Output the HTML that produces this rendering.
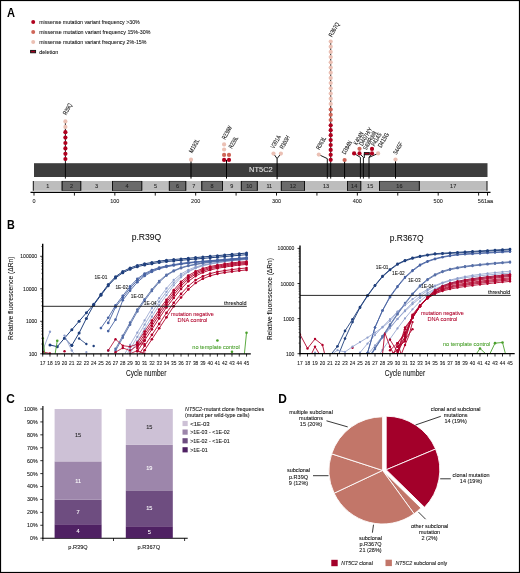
<!DOCTYPE html>
<html><head><meta charset="utf-8"><style>
html,body{margin:0;padding:0;background:#fff;}
svg{display:block;will-change:transform;}
text{font-family:"Liberation Sans", sans-serif;}
</style></head><body>
<svg width="520" height="573" viewBox="0 0 520 573">
<rect x="0" y="0" width="520" height="573" fill="#fff"/>
<text x="7.10" y="16.50" font-size="12.2" fill="#000" text-anchor="start" font-weight="bold" textLength="8.00" lengthAdjust="spacingAndGlyphs">A</text>
<text x="6.90" y="228.80" font-size="12.2" fill="#000" text-anchor="start" font-weight="bold" textLength="7.80" lengthAdjust="spacingAndGlyphs">B</text>
<circle cx="33.20" cy="21.90" r="2.0" fill="#b0001e"/>
<text x="39.20" y="24.00" font-size="6.2" fill="#111" text-anchor="start" textLength="100.60" lengthAdjust="spacingAndGlyphs" stroke="#111" stroke-width="0.08">missense mutation variant frequency &gt;30%</text>
<circle cx="33.20" cy="32.00" r="2.0" fill="#cf6659"/>
<text x="39.20" y="34.10" font-size="6.2" fill="#111" text-anchor="start" textLength="111.30" lengthAdjust="spacingAndGlyphs" stroke="#111" stroke-width="0.08">missense mutation variant frequency 15%-30%</text>
<circle cx="33.20" cy="41.90" r="2.0" fill="#ebc0b4"/>
<text x="39.20" y="44.00" font-size="6.2" fill="#111" text-anchor="start" textLength="107.30" lengthAdjust="spacingAndGlyphs" stroke="#111" stroke-width="0.08">missense mutation variant frequency 2%-15%</text>
<rect x="30.60" y="50.40" width="5.00" height="2.40" fill="#a0001e" stroke="#111" stroke-width="0.9"/>
<text x="39.20" y="53.60" font-size="6.2" fill="#111" text-anchor="start" textLength="19.00" lengthAdjust="spacingAndGlyphs" stroke="#111" stroke-width="0.08">deletion</text>
<rect x="34.00" y="163.20" width="453.50" height="13.80" fill="#3d3d3d"/>
<text x="249.00" y="172.20" font-size="7.2" fill="#e6e6e6" text-anchor="start" textLength="23.70" lengthAdjust="spacingAndGlyphs" stroke="#e6e6e6" stroke-width="0.08">NT5C2</text>
<rect x="33.30" y="181.00" width="28.80" height="9.80" fill="#bdbdbd"/>
<rect x="62.10" y="181.00" width="18.70" height="9.80" fill="#6a6a6a"/>
<rect x="80.80" y="181.00" width="31.70" height="9.80" fill="#bdbdbd"/>
<rect x="112.50" y="181.00" width="29.30" height="9.80" fill="#6a6a6a"/>
<rect x="141.80" y="181.00" width="27.50" height="9.80" fill="#bdbdbd"/>
<rect x="169.30" y="181.00" width="16.50" height="9.80" fill="#6a6a6a"/>
<rect x="185.80" y="181.00" width="16.00" height="9.80" fill="#bdbdbd"/>
<rect x="201.80" y="181.00" width="20.70" height="9.80" fill="#6a6a6a"/>
<rect x="222.50" y="181.00" width="18.80" height="9.80" fill="#bdbdbd"/>
<rect x="241.30" y="181.00" width="16.00" height="9.80" fill="#6a6a6a"/>
<rect x="257.30" y="181.00" width="24.00" height="9.80" fill="#bdbdbd"/>
<rect x="281.30" y="181.00" width="23.20" height="9.80" fill="#6a6a6a"/>
<rect x="304.50" y="181.00" width="43.00" height="9.80" fill="#bdbdbd"/>
<rect x="347.50" y="181.00" width="13.30" height="9.80" fill="#6a6a6a"/>
<rect x="360.80" y="181.00" width="18.70" height="9.80" fill="#bdbdbd"/>
<rect x="379.50" y="181.00" width="39.80" height="9.80" fill="#6a6a6a"/>
<rect x="419.30" y="181.00" width="67.70" height="9.80" fill="#bdbdbd"/>
<text x="47.70" y="188.20" font-size="5.5" fill="#222" text-anchor="middle" stroke="#222" stroke-width="0.08">1</text>
<rect x="62.10" y="181.20" width="18.70" height="9.40" fill="none" stroke="#222" stroke-width="0.5"/>
<line x1="62.10" y1="181.00" x2="62.10" y2="190.80" stroke="#111" stroke-width="1.0"/>
<line x1="80.80" y1="181.00" x2="80.80" y2="190.80" stroke="#111" stroke-width="1.0"/>
<text x="71.45" y="188.20" font-size="5.5" fill="#222" text-anchor="middle" stroke="#222" stroke-width="0.08">2</text>
<text x="96.65" y="188.20" font-size="5.5" fill="#222" text-anchor="middle" stroke="#222" stroke-width="0.08">3</text>
<rect x="112.50" y="181.20" width="29.30" height="9.40" fill="none" stroke="#222" stroke-width="0.5"/>
<line x1="112.50" y1="181.00" x2="112.50" y2="190.80" stroke="#111" stroke-width="1.0"/>
<line x1="141.80" y1="181.00" x2="141.80" y2="190.80" stroke="#111" stroke-width="1.0"/>
<text x="127.15" y="188.20" font-size="5.5" fill="#222" text-anchor="middle" stroke="#222" stroke-width="0.08">4</text>
<text x="155.55" y="188.20" font-size="5.5" fill="#222" text-anchor="middle" stroke="#222" stroke-width="0.08">5</text>
<rect x="169.30" y="181.20" width="16.50" height="9.40" fill="none" stroke="#222" stroke-width="0.5"/>
<line x1="169.30" y1="181.00" x2="169.30" y2="190.80" stroke="#111" stroke-width="1.0"/>
<line x1="185.80" y1="181.00" x2="185.80" y2="190.80" stroke="#111" stroke-width="1.0"/>
<text x="177.55" y="188.20" font-size="5.5" fill="#222" text-anchor="middle" stroke="#222" stroke-width="0.08">6</text>
<text x="193.80" y="188.20" font-size="5.5" fill="#222" text-anchor="middle" stroke="#222" stroke-width="0.08">7</text>
<rect x="201.80" y="181.20" width="20.70" height="9.40" fill="none" stroke="#222" stroke-width="0.5"/>
<line x1="201.80" y1="181.00" x2="201.80" y2="190.80" stroke="#111" stroke-width="1.0"/>
<line x1="222.50" y1="181.00" x2="222.50" y2="190.80" stroke="#111" stroke-width="1.0"/>
<text x="212.15" y="188.20" font-size="5.5" fill="#222" text-anchor="middle" stroke="#222" stroke-width="0.08">8</text>
<text x="231.90" y="188.20" font-size="5.5" fill="#222" text-anchor="middle" stroke="#222" stroke-width="0.08">9</text>
<rect x="241.30" y="181.20" width="16.00" height="9.40" fill="none" stroke="#222" stroke-width="0.5"/>
<line x1="241.30" y1="181.00" x2="241.30" y2="190.80" stroke="#111" stroke-width="1.0"/>
<line x1="257.30" y1="181.00" x2="257.30" y2="190.80" stroke="#111" stroke-width="1.0"/>
<text x="249.30" y="188.20" font-size="5.5" fill="#222" text-anchor="middle" stroke="#222" stroke-width="0.08">10</text>
<text x="269.30" y="188.20" font-size="5.5" fill="#222" text-anchor="middle" stroke="#222" stroke-width="0.08">11</text>
<rect x="281.30" y="181.20" width="23.20" height="9.40" fill="none" stroke="#222" stroke-width="0.5"/>
<line x1="281.30" y1="181.00" x2="281.30" y2="190.80" stroke="#111" stroke-width="1.0"/>
<line x1="304.50" y1="181.00" x2="304.50" y2="190.80" stroke="#111" stroke-width="1.0"/>
<text x="292.90" y="188.20" font-size="5.5" fill="#222" text-anchor="middle" stroke="#222" stroke-width="0.08">12</text>
<text x="326.00" y="188.20" font-size="5.5" fill="#222" text-anchor="middle" stroke="#222" stroke-width="0.08">13</text>
<rect x="347.50" y="181.20" width="13.30" height="9.40" fill="none" stroke="#222" stroke-width="0.5"/>
<line x1="347.50" y1="181.00" x2="347.50" y2="190.80" stroke="#111" stroke-width="1.0"/>
<line x1="360.80" y1="181.00" x2="360.80" y2="190.80" stroke="#111" stroke-width="1.0"/>
<text x="354.15" y="188.20" font-size="5.5" fill="#222" text-anchor="middle" stroke="#222" stroke-width="0.08">14</text>
<text x="370.15" y="188.20" font-size="5.5" fill="#222" text-anchor="middle" stroke="#222" stroke-width="0.08">15</text>
<rect x="379.50" y="181.20" width="39.80" height="9.40" fill="none" stroke="#222" stroke-width="0.5"/>
<line x1="379.50" y1="181.00" x2="379.50" y2="190.80" stroke="#111" stroke-width="1.0"/>
<line x1="419.30" y1="181.00" x2="419.30" y2="190.80" stroke="#111" stroke-width="1.0"/>
<text x="399.40" y="188.20" font-size="5.5" fill="#222" text-anchor="middle" stroke="#222" stroke-width="0.08">16</text>
<text x="453.15" y="188.20" font-size="5.5" fill="#222" text-anchor="middle" stroke="#222" stroke-width="0.08">17</text>
<line x1="33.30" y1="181.00" x2="33.30" y2="190.80" stroke="#111" stroke-width="1.0"/>
<line x1="487.00" y1="181.00" x2="487.00" y2="190.80" stroke="#111" stroke-width="1.0"/>
<line x1="30.50" y1="192.40" x2="490.50" y2="192.40" stroke="#000" stroke-width="1.1"/>
<line x1="34.00" y1="192.40" x2="34.00" y2="195.60" stroke="#000" stroke-width="0.9"/>
<line x1="74.42" y1="192.40" x2="74.42" y2="195.60" stroke="#000" stroke-width="0.9"/>
<line x1="114.84" y1="192.40" x2="114.84" y2="195.60" stroke="#000" stroke-width="0.9"/>
<line x1="155.26" y1="192.40" x2="155.26" y2="195.60" stroke="#000" stroke-width="0.9"/>
<line x1="195.68" y1="192.40" x2="195.68" y2="195.60" stroke="#000" stroke-width="0.9"/>
<line x1="236.09" y1="192.40" x2="236.09" y2="195.60" stroke="#000" stroke-width="0.9"/>
<line x1="276.51" y1="192.40" x2="276.51" y2="195.60" stroke="#000" stroke-width="0.9"/>
<line x1="316.93" y1="192.40" x2="316.93" y2="195.60" stroke="#000" stroke-width="0.9"/>
<line x1="357.35" y1="192.40" x2="357.35" y2="195.60" stroke="#000" stroke-width="0.9"/>
<line x1="397.77" y1="192.40" x2="397.77" y2="195.60" stroke="#000" stroke-width="0.9"/>
<line x1="438.19" y1="192.40" x2="438.19" y2="195.60" stroke="#000" stroke-width="0.9"/>
<line x1="478.61" y1="192.40" x2="478.61" y2="195.60" stroke="#000" stroke-width="0.9"/>
<line x1="487.50" y1="192.40" x2="487.50" y2="195.60" stroke="#000" stroke-width="0.9"/>
<text x="34.00" y="203.00" font-size="5.5" fill="#222" text-anchor="middle" stroke="#222" stroke-width="0.08">0</text>
<text x="114.84" y="203.00" font-size="5.5" fill="#222" text-anchor="middle" stroke="#222" stroke-width="0.08">100</text>
<text x="195.68" y="203.00" font-size="5.5" fill="#222" text-anchor="middle" stroke="#222" stroke-width="0.08">200</text>
<text x="276.51" y="203.00" font-size="5.5" fill="#222" text-anchor="middle" stroke="#222" stroke-width="0.08">300</text>
<text x="357.35" y="203.00" font-size="5.5" fill="#222" text-anchor="middle" stroke="#222" stroke-width="0.08">400</text>
<text x="438.19" y="203.00" font-size="5.5" fill="#222" text-anchor="middle" stroke="#222" stroke-width="0.08">500</text>
<text x="485.50" y="203.00" font-size="5.5" fill="#222" text-anchor="middle" stroke="#222" stroke-width="0.08">561aa</text>
<line x1="65.40" y1="121.40" x2="65.40" y2="178.60" stroke="#000" stroke-width="0.9"/>
<circle cx="65.40" cy="159.00" r="2.1" fill="#b0001e"/>
<circle cx="65.40" cy="153.80" r="2.1" fill="#b0001e"/>
<circle cx="65.40" cy="148.40" r="2.1" fill="#b0001e"/>
<circle cx="65.40" cy="143.00" r="2.1" fill="#b0001e"/>
<circle cx="65.40" cy="137.60" r="2.1" fill="#b0001e"/>
<circle cx="65.40" cy="132.20" r="2.1" fill="#b0001e"/>
<circle cx="65.40" cy="126.90" r="2.1" fill="#ebc0b4"/>
<circle cx="65.40" cy="121.40" r="2.1" fill="#ebc0b4"/>
<text x="66.20" y="115.40" font-size="6.3" fill="#111" text-anchor="start" textLength="12.31" lengthAdjust="spacingAndGlyphs" transform="rotate(-60 66.20 115.40)" stroke="#111" stroke-width="0.08">R39Q</text>
<line x1="191.00" y1="159.70" x2="191.00" y2="178.60" stroke="#000" stroke-width="1.0"/>
<circle cx="191.00" cy="159.70" r="2.1" fill="#ebc0b4"/>
<text x="192.20" y="153.40" font-size="6.3" fill="#111" text-anchor="start" textLength="14.98" lengthAdjust="spacingAndGlyphs" transform="rotate(-60 192.20 153.40)" stroke="#111" stroke-width="0.08">M192L</text>
<line x1="226.50" y1="159.90" x2="226.50" y2="178.60" stroke="#000" stroke-width="1.0"/>
<circle cx="224.10" cy="159.90" r="2.1" fill="#b0001e"/>
<circle cx="224.10" cy="154.90" r="2.1" fill="#cf6659"/>
<circle cx="224.10" cy="149.50" r="2.1" fill="#ebc0b4"/>
<circle cx="224.10" cy="144.40" r="2.1" fill="#ebc0b4"/>
<circle cx="229.00" cy="159.90" r="2.1" fill="#b0001e"/>
<circle cx="229.00" cy="154.90" r="2.1" fill="#cf6659"/>
<text x="225.20" y="139.90" font-size="6.3" fill="#111" text-anchor="start" textLength="14.45" lengthAdjust="spacingAndGlyphs" transform="rotate(-60 225.20 139.90)" stroke="#111" stroke-width="0.08">R238W</text>
<text x="232.00" y="149.00" font-size="6.3" fill="#111" text-anchor="start" textLength="12.84" lengthAdjust="spacingAndGlyphs" transform="rotate(-60 232.00 149.00)" stroke="#111" stroke-width="0.08">R238L</text>
<polyline points="273.50,153.60 277.10,158.60 280.90,153.60" fill="none" stroke="#000" stroke-width="0.9" stroke-linejoin="round"/>
<line x1="277.10" y1="158.60" x2="277.10" y2="179.20" stroke="#000" stroke-width="1.0"/>
<circle cx="273.50" cy="153.60" r="2.1" fill="#ebc0b4"/>
<circle cx="280.90" cy="153.60" r="2.1" fill="#ebc0b4"/>
<text x="274.00" y="148.90" font-size="6.3" fill="#111" text-anchor="start" textLength="14.02" lengthAdjust="spacingAndGlyphs" transform="rotate(-60 274.00 148.90)" stroke="#111" stroke-width="0.08">V301A</text>
<text x="283.00" y="149.60" font-size="6.3" fill="#111" text-anchor="start" textLength="14.34" lengthAdjust="spacingAndGlyphs" transform="rotate(-60 283.00 149.60)" stroke="#111" stroke-width="0.08">R303H</text>
<polyline points="318.80,154.60 327.30,158.60 327.30,178.60" fill="none" stroke="#000" stroke-width="0.9" stroke-linejoin="round"/>
<circle cx="318.80" cy="154.60" r="2.1" fill="#ebc0b4"/>
<text x="319.40" y="150.30" font-size="6.3" fill="#111" text-anchor="start" textLength="13.91" lengthAdjust="spacingAndGlyphs" transform="rotate(-60 319.40 150.30)" stroke="#111" stroke-width="0.08">R363L</text>
<line x1="330.70" y1="41.50" x2="330.70" y2="178.60" stroke="#000" stroke-width="0.9"/>
<circle cx="330.70" cy="159.80" r="2.1" fill="#b0001e"/>
<circle cx="330.70" cy="154.87" r="2.1" fill="#b0001e"/>
<circle cx="330.70" cy="149.94" r="2.1" fill="#b0001e"/>
<circle cx="330.70" cy="145.01" r="2.1" fill="#b0001e"/>
<circle cx="330.70" cy="140.08" r="2.1" fill="#b0001e"/>
<circle cx="330.70" cy="135.15" r="2.1" fill="#b0001e"/>
<circle cx="330.70" cy="130.22" r="2.1" fill="#b0001e"/>
<circle cx="330.70" cy="125.29" r="2.1" fill="#b0001e"/>
<circle cx="330.70" cy="120.00" r="2.1" fill="#cf6659"/>
<circle cx="330.70" cy="114.75" r="2.1" fill="#cf6659"/>
<circle cx="330.70" cy="109.50" r="2.1" fill="#cf6659"/>
<circle cx="330.70" cy="103.90" r="2.1" fill="#ebc0b4"/>
<circle cx="330.70" cy="98.70" r="2.1" fill="#ebc0b4"/>
<circle cx="330.70" cy="93.50" r="2.1" fill="#ebc0b4"/>
<circle cx="330.70" cy="88.30" r="2.1" fill="#ebc0b4"/>
<circle cx="330.70" cy="83.10" r="2.1" fill="#ebc0b4"/>
<circle cx="330.70" cy="77.90" r="2.1" fill="#ebc0b4"/>
<circle cx="330.70" cy="72.70" r="2.1" fill="#ebc0b4"/>
<circle cx="330.70" cy="67.50" r="2.1" fill="#ebc0b4"/>
<circle cx="330.70" cy="62.30" r="2.1" fill="#ebc0b4"/>
<circle cx="330.70" cy="57.10" r="2.1" fill="#ebc0b4"/>
<circle cx="330.70" cy="51.90" r="2.1" fill="#ebc0b4"/>
<circle cx="330.70" cy="46.70" r="2.1" fill="#ebc0b4"/>
<circle cx="330.70" cy="41.50" r="2.1" fill="#ebc0b4"/>
<text x="332.00" y="37.40" font-size="6.3" fill="#111" text-anchor="start" textLength="15.52" lengthAdjust="spacingAndGlyphs" transform="rotate(-60 332.00 37.40)" stroke="#111" stroke-width="0.08">R367Q</text>
<line x1="344.60" y1="160.00" x2="344.60" y2="178.60" stroke="#000" stroke-width="1.0"/>
<circle cx="344.60" cy="160.00" r="2.1" fill="#cf6659"/>
<text x="345.20" y="154.80" font-size="6.3" fill="#111" text-anchor="start" textLength="14.45" lengthAdjust="spacingAndGlyphs" transform="rotate(-60 345.20 154.80)" stroke="#111" stroke-width="0.08">D384N</text>
<polyline points="354.10,153.40 360.40,157.40 360.40,178.60" fill="none" stroke="#000" stroke-width="0.9" stroke-linejoin="round"/>
<polyline points="359.50,153.40 363.40,157.40 363.40,178.60" fill="none" stroke="#000" stroke-width="0.9" stroke-linejoin="round"/>
<polyline points="372.00,153.40 369.00,157.40 369.00,178.60" fill="none" stroke="#000" stroke-width="0.9" stroke-linejoin="round"/>
<polyline points="378.10,153.40 369.00,157.40" fill="none" stroke="#000" stroke-width="0.9" stroke-linejoin="round"/>
<line x1="364.30" y1="153.60" x2="364.30" y2="158.00" stroke="#000" stroke-width="0.9"/>
<circle cx="354.10" cy="153.40" r="2.1" fill="#b0001e"/>
<circle cx="359.50" cy="153.40" r="2.1" fill="#b0001e"/>
<circle cx="359.50" cy="148.80" r="2.1" fill="#cf6659"/>
<rect x="364.30" y="152.40" width="5.00" height="2.40" fill="#a0001e" stroke="#111" stroke-width="0.8"/>
<circle cx="372.00" cy="153.40" r="2.1" fill="#b0001e"/>
<circle cx="372.00" cy="148.90" r="2.1" fill="#b0001e"/>
<circle cx="378.10" cy="153.40" r="2.1" fill="#ebc0b4"/>
<text x="357.00" y="145.40" font-size="6.3" fill="#111" text-anchor="start" textLength="13.70" lengthAdjust="spacingAndGlyphs" transform="rotate(-60 357.00 145.40)" stroke="#111" stroke-width="0.08">K404N</text>
<text x="362.60" y="146.20" font-size="6.3" fill="#111" text-anchor="start" textLength="19.90" lengthAdjust="spacingAndGlyphs" transform="rotate(-60 362.60 146.20)" stroke="#111" stroke-width="0.08">D407H/Y</text>
<text x="366.50" y="150.50" font-size="6.3" fill="#111" text-anchor="start" textLength="20.65" lengthAdjust="spacingAndGlyphs" transform="rotate(-60 366.50 150.50)" stroke="#111" stroke-width="0.08">S408Rdel8</text>
<text x="374.70" y="146.70" font-size="6.3" fill="#111" text-anchor="start" textLength="14.23" lengthAdjust="spacingAndGlyphs" transform="rotate(-60 374.70 146.70)" stroke="#111" stroke-width="0.08">P414S</text>
<text x="381.20" y="148.00" font-size="6.3" fill="#111" text-anchor="start" textLength="15.84" lengthAdjust="spacingAndGlyphs" transform="rotate(-60 381.20 148.00)" stroke="#111" stroke-width="0.08">D415G</text>
<line x1="395.50" y1="159.50" x2="395.50" y2="178.60" stroke="#000" stroke-width="1.0"/>
<circle cx="395.50" cy="159.50" r="2.1" fill="#ebc0b4"/>
<text x="396.50" y="155.00" font-size="6.3" fill="#111" text-anchor="start" textLength="12.95" lengthAdjust="spacingAndGlyphs" transform="rotate(-60 396.50 155.00)" stroke="#111" stroke-width="0.08">S445F</text>
<text x="131.70" y="239.60" font-size="8.5" fill="#111" text-anchor="start" textLength="29.50" lengthAdjust="spacingAndGlyphs" stroke="#111" stroke-width="0.08">p.R39Q</text>
<text x="13.20" y="298.20" font-size="7.2" fill="#111" text-anchor="middle" textLength="83.50" lengthAdjust="spacingAndGlyphs" transform="rotate(-90 13.20 298.20)" stroke="#111" stroke-width="0.08">Relative fluorescence (ΔRn)</text>
<text x="146.20" y="376.20" font-size="8.8" fill="#111" text-anchor="middle" textLength="40.40" lengthAdjust="spacingAndGlyphs" stroke="#111" stroke-width="0.08">Cycle number</text>
<clipPath id="clipL"><rect x="42.7" y="240.7" width="209.10000000000002" height="113.10000000000002"/></clipPath>
<g clip-path="url(#clipL)">
<polyline points="122.78,357.15 130.06,344.90 137.34,332.64 144.62,320.39 151.90,308.14 159.18,298.15 166.46,288.40 173.74,280.00 181.02,273.94 188.30,269.84 195.58,266.93 202.86,264.98 210.14,263.59 217.42,262.32 224.70,261.25 231.98,260.50 239.26,259.86 246.54,259.23" fill="none" stroke="#8e9ecb" stroke-width="0.75" stroke-linejoin="round"/>
<circle cx="130.06" cy="344.90" r="1.15" fill="#8e9ecb"/>
<circle cx="137.34" cy="332.64" r="1.15" fill="#8e9ecb"/>
<circle cx="144.62" cy="320.39" r="1.15" fill="#8e9ecb"/>
<circle cx="151.90" cy="308.14" r="1.15" fill="#8e9ecb"/>
<circle cx="159.18" cy="298.15" r="1.15" fill="#8e9ecb"/>
<circle cx="166.46" cy="288.40" r="1.15" fill="#8e9ecb"/>
<circle cx="173.74" cy="280.00" r="1.15" fill="#8e9ecb"/>
<circle cx="181.02" cy="273.94" r="1.15" fill="#8e9ecb"/>
<circle cx="188.30" cy="269.84" r="1.15" fill="#8e9ecb"/>
<circle cx="195.58" cy="266.93" r="1.15" fill="#8e9ecb"/>
<circle cx="202.86" cy="264.98" r="1.15" fill="#8e9ecb"/>
<circle cx="210.14" cy="263.59" r="1.15" fill="#8e9ecb"/>
<circle cx="217.42" cy="262.32" r="1.15" fill="#8e9ecb"/>
<circle cx="224.70" cy="261.25" r="1.15" fill="#8e9ecb"/>
<circle cx="231.98" cy="260.50" r="1.15" fill="#8e9ecb"/>
<circle cx="239.26" cy="259.86" r="1.15" fill="#8e9ecb"/>
<circle cx="246.54" cy="259.23" r="1.15" fill="#8e9ecb"/>
<polyline points="122.78,361.44 130.06,349.18 137.34,336.93 144.62,324.68 151.90,312.43 159.18,301.65 166.46,291.78 173.74,282.72 181.02,275.78 188.30,271.13 195.58,267.90 202.86,265.62 210.14,264.13 217.42,262.86 224.70,261.68 231.98,260.82 239.26,260.18 246.54,259.55" fill="none" stroke="#8e9ecb" stroke-width="0.75" stroke-linejoin="round"/>
<circle cx="130.06" cy="349.18" r="1.15" fill="#8e9ecb"/>
<circle cx="137.34" cy="336.93" r="1.15" fill="#8e9ecb"/>
<circle cx="144.62" cy="324.68" r="1.15" fill="#8e9ecb"/>
<circle cx="151.90" cy="312.43" r="1.15" fill="#8e9ecb"/>
<circle cx="159.18" cy="301.65" r="1.15" fill="#8e9ecb"/>
<circle cx="166.46" cy="291.78" r="1.15" fill="#8e9ecb"/>
<circle cx="173.74" cy="282.72" r="1.15" fill="#8e9ecb"/>
<circle cx="181.02" cy="275.78" r="1.15" fill="#8e9ecb"/>
<circle cx="188.30" cy="271.13" r="1.15" fill="#8e9ecb"/>
<circle cx="195.58" cy="267.90" r="1.15" fill="#8e9ecb"/>
<circle cx="202.86" cy="265.62" r="1.15" fill="#8e9ecb"/>
<circle cx="210.14" cy="264.13" r="1.15" fill="#8e9ecb"/>
<circle cx="217.42" cy="262.86" r="1.15" fill="#8e9ecb"/>
<circle cx="224.70" cy="261.68" r="1.15" fill="#8e9ecb"/>
<circle cx="231.98" cy="260.82" r="1.15" fill="#8e9ecb"/>
<circle cx="239.26" cy="260.18" r="1.15" fill="#8e9ecb"/>
<circle cx="246.54" cy="259.55" r="1.15" fill="#8e9ecb"/>
<polyline points="122.78,365.72 130.06,353.47 137.34,341.22 144.62,328.97 151.90,316.71 159.18,305.03 166.46,295.07 173.74,285.29 181.02,277.34 188.30,271.93 195.58,268.23 202.86,265.56 210.14,263.86 217.42,262.53 224.70,261.23 231.98,260.23 239.26,259.55 246.54,258.90" fill="none" stroke="#8e9ecb" stroke-width="0.75" stroke-linejoin="round"/>
<circle cx="130.06" cy="353.47" r="1.15" fill="#8e9ecb"/>
<circle cx="137.34" cy="341.22" r="1.15" fill="#8e9ecb"/>
<circle cx="144.62" cy="328.97" r="1.15" fill="#8e9ecb"/>
<circle cx="151.90" cy="316.71" r="1.15" fill="#8e9ecb"/>
<circle cx="159.18" cy="305.03" r="1.15" fill="#8e9ecb"/>
<circle cx="166.46" cy="295.07" r="1.15" fill="#8e9ecb"/>
<circle cx="173.74" cy="285.29" r="1.15" fill="#8e9ecb"/>
<circle cx="181.02" cy="277.34" r="1.15" fill="#8e9ecb"/>
<circle cx="188.30" cy="271.93" r="1.15" fill="#8e9ecb"/>
<circle cx="195.58" cy="268.23" r="1.15" fill="#8e9ecb"/>
<circle cx="202.86" cy="265.56" r="1.15" fill="#8e9ecb"/>
<circle cx="210.14" cy="263.86" r="1.15" fill="#8e9ecb"/>
<circle cx="217.42" cy="262.53" r="1.15" fill="#8e9ecb"/>
<circle cx="224.70" cy="261.23" r="1.15" fill="#8e9ecb"/>
<circle cx="231.98" cy="260.23" r="1.15" fill="#8e9ecb"/>
<circle cx="239.26" cy="259.55" r="1.15" fill="#8e9ecb"/>
<circle cx="246.54" cy="258.90" r="1.15" fill="#8e9ecb"/>
<polyline points="115.50,348.87 122.78,335.77 130.06,322.67 137.34,309.57 144.62,299.18 151.90,289.48 159.18,280.98 166.46,274.75 173.74,270.55 181.02,267.59 188.30,265.58 195.58,264.18 202.86,262.93 210.14,261.84 217.42,261.07 224.70,260.45 231.98,259.82 239.26,259.20 246.54,258.58" fill="none" stroke="#5870a8" stroke-width="0.9" stroke-linejoin="round"/>
<circle cx="115.50" cy="348.87" r="1.3" fill="#5870a8"/>
<circle cx="122.78" cy="335.77" r="1.3" fill="#5870a8"/>
<circle cx="130.06" cy="322.67" r="1.3" fill="#5870a8"/>
<circle cx="137.34" cy="309.57" r="1.3" fill="#5870a8"/>
<circle cx="144.62" cy="299.18" r="1.3" fill="#5870a8"/>
<circle cx="151.90" cy="289.48" r="1.3" fill="#5870a8"/>
<circle cx="159.18" cy="280.98" r="1.3" fill="#5870a8"/>
<circle cx="166.46" cy="274.75" r="1.3" fill="#5870a8"/>
<circle cx="173.74" cy="270.55" r="1.3" fill="#5870a8"/>
<circle cx="181.02" cy="267.59" r="1.3" fill="#5870a8"/>
<circle cx="188.30" cy="265.58" r="1.3" fill="#5870a8"/>
<circle cx="195.58" cy="264.18" r="1.3" fill="#5870a8"/>
<circle cx="202.86" cy="262.93" r="1.3" fill="#5870a8"/>
<circle cx="210.14" cy="261.84" r="1.3" fill="#5870a8"/>
<circle cx="217.42" cy="261.07" r="1.3" fill="#5870a8"/>
<circle cx="224.70" cy="260.45" r="1.3" fill="#5870a8"/>
<circle cx="231.98" cy="259.82" r="1.3" fill="#5870a8"/>
<circle cx="239.26" cy="259.20" r="1.3" fill="#5870a8"/>
<circle cx="246.54" cy="258.58" r="1.3" fill="#5870a8"/>
<polyline points="115.50,350.83 122.78,337.73 130.06,324.64 137.34,311.54 144.62,300.68 151.90,290.95 159.18,282.20 166.46,275.62 173.74,271.21 181.02,268.13 188.30,266.00 195.58,264.56 202.86,263.32 210.14,262.19 217.42,261.38 224.70,260.76 231.98,260.14 239.26,259.52 246.54,258.90" fill="none" stroke="#5870a8" stroke-width="0.9" stroke-linejoin="round"/>
<circle cx="115.50" cy="350.83" r="1.3" fill="#5870a8"/>
<circle cx="122.78" cy="337.73" r="1.3" fill="#5870a8"/>
<circle cx="130.06" cy="324.64" r="1.3" fill="#5870a8"/>
<circle cx="137.34" cy="311.54" r="1.3" fill="#5870a8"/>
<circle cx="144.62" cy="300.68" r="1.3" fill="#5870a8"/>
<circle cx="151.90" cy="290.95" r="1.3" fill="#5870a8"/>
<circle cx="159.18" cy="282.20" r="1.3" fill="#5870a8"/>
<circle cx="166.46" cy="275.62" r="1.3" fill="#5870a8"/>
<circle cx="173.74" cy="271.21" r="1.3" fill="#5870a8"/>
<circle cx="181.02" cy="268.13" r="1.3" fill="#5870a8"/>
<circle cx="188.30" cy="266.00" r="1.3" fill="#5870a8"/>
<circle cx="195.58" cy="264.56" r="1.3" fill="#5870a8"/>
<circle cx="202.86" cy="263.32" r="1.3" fill="#5870a8"/>
<circle cx="210.14" cy="262.19" r="1.3" fill="#5870a8"/>
<circle cx="217.42" cy="261.38" r="1.3" fill="#5870a8"/>
<circle cx="224.70" cy="260.76" r="1.3" fill="#5870a8"/>
<circle cx="231.98" cy="260.14" r="1.3" fill="#5870a8"/>
<circle cx="239.26" cy="259.52" r="1.3" fill="#5870a8"/>
<circle cx="246.54" cy="258.90" r="1.3" fill="#5870a8"/>
<polyline points="100.94,328.12 108.22,317.73 115.50,305.46 122.78,295.82 130.06,286.43 137.34,278.80 144.62,273.59 151.90,270.05 159.18,267.50 166.46,265.87 173.74,264.62 181.02,263.41 188.30,262.46 195.58,261.82 202.86,261.22 210.14,260.61 217.42,260.01 224.70,259.41 231.98,258.80 239.26,258.20 246.54,257.60" fill="none" stroke="#4863a3" stroke-width="0.9" stroke-linejoin="round"/>
<circle cx="100.94" cy="328.12" r="1.35" fill="#4863a3"/>
<circle cx="108.22" cy="317.73" r="1.35" fill="#4863a3"/>
<circle cx="115.50" cy="305.46" r="1.35" fill="#4863a3"/>
<circle cx="122.78" cy="295.82" r="1.35" fill="#4863a3"/>
<circle cx="130.06" cy="286.43" r="1.35" fill="#4863a3"/>
<circle cx="137.34" cy="278.80" r="1.35" fill="#4863a3"/>
<circle cx="144.62" cy="273.59" r="1.35" fill="#4863a3"/>
<circle cx="151.90" cy="270.05" r="1.35" fill="#4863a3"/>
<circle cx="159.18" cy="267.50" r="1.35" fill="#4863a3"/>
<circle cx="166.46" cy="265.87" r="1.35" fill="#4863a3"/>
<circle cx="173.74" cy="264.62" r="1.35" fill="#4863a3"/>
<circle cx="181.02" cy="263.41" r="1.35" fill="#4863a3"/>
<circle cx="188.30" cy="262.46" r="1.35" fill="#4863a3"/>
<circle cx="195.58" cy="261.82" r="1.35" fill="#4863a3"/>
<circle cx="202.86" cy="261.22" r="1.35" fill="#4863a3"/>
<circle cx="210.14" cy="260.61" r="1.35" fill="#4863a3"/>
<circle cx="217.42" cy="260.01" r="1.35" fill="#4863a3"/>
<circle cx="224.70" cy="259.41" r="1.35" fill="#4863a3"/>
<circle cx="231.98" cy="258.80" r="1.35" fill="#4863a3"/>
<circle cx="239.26" cy="258.20" r="1.35" fill="#4863a3"/>
<circle cx="246.54" cy="257.60" r="1.35" fill="#4863a3"/>
<polyline points="108.22,322.93 115.50,307.15 122.78,297.79 130.06,288.34 137.34,280.35 144.62,274.68 151.90,270.84 159.18,268.13 166.46,266.33 173.74,265.02 181.02,263.82 188.30,262.82 195.58,262.12 202.86,261.52 210.14,260.92 217.42,260.32 224.70,259.72 231.98,259.12 239.26,258.52 246.54,257.93" fill="none" stroke="#4863a3" stroke-width="0.9" stroke-linejoin="round"/>
<circle cx="108.22" cy="322.93" r="1.35" fill="#4863a3"/>
<circle cx="115.50" cy="307.15" r="1.35" fill="#4863a3"/>
<circle cx="122.78" cy="297.79" r="1.35" fill="#4863a3"/>
<circle cx="130.06" cy="288.34" r="1.35" fill="#4863a3"/>
<circle cx="137.34" cy="280.35" r="1.35" fill="#4863a3"/>
<circle cx="144.62" cy="274.68" r="1.35" fill="#4863a3"/>
<circle cx="151.90" cy="270.84" r="1.35" fill="#4863a3"/>
<circle cx="159.18" cy="268.13" r="1.35" fill="#4863a3"/>
<circle cx="166.46" cy="266.33" r="1.35" fill="#4863a3"/>
<circle cx="173.74" cy="265.02" r="1.35" fill="#4863a3"/>
<circle cx="181.02" cy="263.82" r="1.35" fill="#4863a3"/>
<circle cx="188.30" cy="262.82" r="1.35" fill="#4863a3"/>
<circle cx="195.58" cy="262.12" r="1.35" fill="#4863a3"/>
<circle cx="202.86" cy="261.52" r="1.35" fill="#4863a3"/>
<circle cx="210.14" cy="260.92" r="1.35" fill="#4863a3"/>
<circle cx="217.42" cy="260.32" r="1.35" fill="#4863a3"/>
<circle cx="224.70" cy="259.72" r="1.35" fill="#4863a3"/>
<circle cx="231.98" cy="259.12" r="1.35" fill="#4863a3"/>
<circle cx="239.26" cy="258.52" r="1.35" fill="#4863a3"/>
<circle cx="246.54" cy="257.93" r="1.35" fill="#4863a3"/>
<polyline points="108.22,331.05 115.50,319.68 122.78,300.24 130.06,290.69 137.34,282.25 144.62,275.98 151.90,271.78 159.18,268.85 166.46,266.83 173.74,265.46 181.02,264.26 188.30,263.19 195.58,262.42 202.86,261.83 210.14,261.23 217.42,260.63 224.70,260.04 231.98,259.44 239.26,258.85 246.54,258.25" fill="none" stroke="#4863a3" stroke-width="0.9" stroke-linejoin="round"/>
<circle cx="108.22" cy="331.05" r="1.35" fill="#4863a3"/>
<circle cx="115.50" cy="319.68" r="1.35" fill="#4863a3"/>
<circle cx="122.78" cy="300.24" r="1.35" fill="#4863a3"/>
<circle cx="130.06" cy="290.69" r="1.35" fill="#4863a3"/>
<circle cx="137.34" cy="282.25" r="1.35" fill="#4863a3"/>
<circle cx="144.62" cy="275.98" r="1.35" fill="#4863a3"/>
<circle cx="151.90" cy="271.78" r="1.35" fill="#4863a3"/>
<circle cx="159.18" cy="268.85" r="1.35" fill="#4863a3"/>
<circle cx="166.46" cy="266.83" r="1.35" fill="#4863a3"/>
<circle cx="173.74" cy="265.46" r="1.35" fill="#4863a3"/>
<circle cx="181.02" cy="264.26" r="1.35" fill="#4863a3"/>
<circle cx="188.30" cy="263.19" r="1.35" fill="#4863a3"/>
<circle cx="195.58" cy="262.42" r="1.35" fill="#4863a3"/>
<circle cx="202.86" cy="261.83" r="1.35" fill="#4863a3"/>
<circle cx="210.14" cy="261.23" r="1.35" fill="#4863a3"/>
<circle cx="217.42" cy="260.63" r="1.35" fill="#4863a3"/>
<circle cx="224.70" cy="260.04" r="1.35" fill="#4863a3"/>
<circle cx="231.98" cy="259.44" r="1.35" fill="#4863a3"/>
<circle cx="239.26" cy="258.85" r="1.35" fill="#4863a3"/>
<circle cx="246.54" cy="258.25" r="1.35" fill="#4863a3"/>
<polyline points="137.34,361.23 144.62,350.24 151.90,339.26 159.18,328.27 166.46,317.29 173.74,306.30 181.02,297.52 188.30,289.41 195.58,283.02 202.86,278.71 210.14,275.85 217.42,273.83 224.70,272.54 231.98,271.58 239.26,270.67 246.54,269.95" fill="none" stroke="#b0002a" stroke-width="0.9" stroke-linejoin="round"/>
<circle cx="144.62" cy="350.24" r="1.35" fill="#b0002a"/>
<circle cx="151.90" cy="339.26" r="1.35" fill="#b0002a"/>
<circle cx="159.18" cy="328.27" r="1.35" fill="#b0002a"/>
<circle cx="166.46" cy="317.29" r="1.35" fill="#b0002a"/>
<circle cx="173.74" cy="306.30" r="1.35" fill="#b0002a"/>
<circle cx="181.02" cy="297.52" r="1.35" fill="#b0002a"/>
<circle cx="188.30" cy="289.41" r="1.35" fill="#b0002a"/>
<circle cx="195.58" cy="283.02" r="1.35" fill="#b0002a"/>
<circle cx="202.86" cy="278.71" r="1.35" fill="#b0002a"/>
<circle cx="210.14" cy="275.85" r="1.35" fill="#b0002a"/>
<circle cx="217.42" cy="273.83" r="1.35" fill="#b0002a"/>
<circle cx="224.70" cy="272.54" r="1.35" fill="#b0002a"/>
<circle cx="231.98" cy="271.58" r="1.35" fill="#b0002a"/>
<circle cx="239.26" cy="270.67" r="1.35" fill="#b0002a"/>
<circle cx="246.54" cy="269.95" r="1.35" fill="#b0002a"/>
<polyline points="137.34,356.83 144.62,345.85 151.90,334.86 159.18,323.88 166.46,312.89 173.74,302.81 181.02,293.89 188.30,286.00 195.58,280.09 202.86,276.24 210.14,273.62 217.42,271.77 224.70,270.59 231.98,269.61 239.26,268.68 246.54,268.00" fill="none" stroke="#b0002a" stroke-width="0.9" stroke-linejoin="round"/>
<circle cx="144.62" cy="345.85" r="1.35" fill="#b0002a"/>
<circle cx="151.90" cy="334.86" r="1.35" fill="#b0002a"/>
<circle cx="159.18" cy="323.88" r="1.35" fill="#b0002a"/>
<circle cx="166.46" cy="312.89" r="1.35" fill="#b0002a"/>
<circle cx="173.74" cy="302.81" r="1.35" fill="#b0002a"/>
<circle cx="181.02" cy="293.89" r="1.35" fill="#b0002a"/>
<circle cx="188.30" cy="286.00" r="1.35" fill="#b0002a"/>
<circle cx="195.58" cy="280.09" r="1.35" fill="#b0002a"/>
<circle cx="202.86" cy="276.24" r="1.35" fill="#b0002a"/>
<circle cx="210.14" cy="273.62" r="1.35" fill="#b0002a"/>
<circle cx="217.42" cy="271.77" r="1.35" fill="#b0002a"/>
<circle cx="224.70" cy="270.59" r="1.35" fill="#b0002a"/>
<circle cx="231.98" cy="269.61" r="1.35" fill="#b0002a"/>
<circle cx="239.26" cy="268.68" r="1.35" fill="#b0002a"/>
<circle cx="246.54" cy="268.00" r="1.35" fill="#b0002a"/>
<polyline points="137.34,351.34 144.62,340.35 151.90,329.37 159.18,318.38 166.46,307.40 173.74,297.97 181.02,288.92 188.30,281.37 195.58,276.05 202.86,272.49 210.14,269.97 217.42,268.30 224.70,267.10 231.98,265.99 239.26,265.07 246.54,264.43" fill="none" stroke="#b0002a" stroke-width="0.9" stroke-linejoin="round"/>
<circle cx="137.34" cy="351.34" r="1.35" fill="#b0002a"/>
<circle cx="144.62" cy="340.35" r="1.35" fill="#b0002a"/>
<circle cx="151.90" cy="329.37" r="1.35" fill="#b0002a"/>
<circle cx="159.18" cy="318.38" r="1.35" fill="#b0002a"/>
<circle cx="166.46" cy="307.40" r="1.35" fill="#b0002a"/>
<circle cx="173.74" cy="297.97" r="1.35" fill="#b0002a"/>
<circle cx="181.02" cy="288.92" r="1.35" fill="#b0002a"/>
<circle cx="188.30" cy="281.37" r="1.35" fill="#b0002a"/>
<circle cx="195.58" cy="276.05" r="1.35" fill="#b0002a"/>
<circle cx="202.86" cy="272.49" r="1.35" fill="#b0002a"/>
<circle cx="210.14" cy="269.97" r="1.35" fill="#b0002a"/>
<circle cx="217.42" cy="268.30" r="1.35" fill="#b0002a"/>
<circle cx="224.70" cy="267.10" r="1.35" fill="#b0002a"/>
<circle cx="231.98" cy="265.99" r="1.35" fill="#b0002a"/>
<circle cx="239.26" cy="265.07" r="1.35" fill="#b0002a"/>
<circle cx="246.54" cy="264.43" r="1.35" fill="#b0002a"/>
<polyline points="137.34,348.04 144.62,337.06 151.90,326.07 159.18,315.09 166.46,304.64 173.74,295.06 181.02,286.03 188.30,278.90 195.58,274.18 202.86,270.96 210.14,268.64 217.42,267.18 224.70,266.03 231.98,264.89 239.26,264.03 246.54,263.45" fill="none" stroke="#b0002a" stroke-width="0.9" stroke-linejoin="round"/>
<circle cx="137.34" cy="348.04" r="1.35" fill="#b0002a"/>
<circle cx="144.62" cy="337.06" r="1.35" fill="#b0002a"/>
<circle cx="151.90" cy="326.07" r="1.35" fill="#b0002a"/>
<circle cx="159.18" cy="315.09" r="1.35" fill="#b0002a"/>
<circle cx="166.46" cy="304.64" r="1.35" fill="#b0002a"/>
<circle cx="173.74" cy="295.06" r="1.35" fill="#b0002a"/>
<circle cx="181.02" cy="286.03" r="1.35" fill="#b0002a"/>
<circle cx="188.30" cy="278.90" r="1.35" fill="#b0002a"/>
<circle cx="195.58" cy="274.18" r="1.35" fill="#b0002a"/>
<circle cx="202.86" cy="270.96" r="1.35" fill="#b0002a"/>
<circle cx="210.14" cy="268.64" r="1.35" fill="#b0002a"/>
<circle cx="217.42" cy="267.18" r="1.35" fill="#b0002a"/>
<circle cx="224.70" cy="266.03" r="1.35" fill="#b0002a"/>
<circle cx="231.98" cy="264.89" r="1.35" fill="#b0002a"/>
<circle cx="239.26" cy="264.03" r="1.35" fill="#b0002a"/>
<circle cx="246.54" cy="263.45" r="1.35" fill="#b0002a"/>
<polyline points="137.34,345.30 144.62,334.31 151.90,323.33 159.18,312.34 166.46,302.21 173.74,292.64 181.02,283.91 188.30,277.23 195.58,272.80 202.86,269.73 210.14,267.57 217.42,266.16 224.70,264.98 231.98,263.88 239.26,263.06 246.54,262.48" fill="none" stroke="#b0002a" stroke-width="0.9" stroke-linejoin="round"/>
<circle cx="137.34" cy="345.30" r="1.35" fill="#b0002a"/>
<circle cx="144.62" cy="334.31" r="1.35" fill="#b0002a"/>
<circle cx="151.90" cy="323.33" r="1.35" fill="#b0002a"/>
<circle cx="159.18" cy="312.34" r="1.35" fill="#b0002a"/>
<circle cx="166.46" cy="302.21" r="1.35" fill="#b0002a"/>
<circle cx="173.74" cy="292.64" r="1.35" fill="#b0002a"/>
<circle cx="181.02" cy="283.91" r="1.35" fill="#b0002a"/>
<circle cx="188.30" cy="277.23" r="1.35" fill="#b0002a"/>
<circle cx="195.58" cy="272.80" r="1.35" fill="#b0002a"/>
<circle cx="202.86" cy="269.73" r="1.35" fill="#b0002a"/>
<circle cx="210.14" cy="267.57" r="1.35" fill="#b0002a"/>
<circle cx="217.42" cy="266.16" r="1.35" fill="#b0002a"/>
<circle cx="224.70" cy="264.98" r="1.35" fill="#b0002a"/>
<circle cx="231.98" cy="263.88" r="1.35" fill="#b0002a"/>
<circle cx="239.26" cy="263.06" r="1.35" fill="#b0002a"/>
<circle cx="246.54" cy="262.48" r="1.35" fill="#b0002a"/>
<polyline points="137.34,342.55 144.62,331.57 151.90,320.58 159.18,309.60 166.46,299.73 173.74,290.17 181.02,281.77 188.30,275.57 195.58,271.41 202.86,268.50 210.14,266.51 217.42,265.14 224.70,263.93 231.98,262.87 239.26,262.10 246.54,261.50" fill="none" stroke="#b0002a" stroke-width="0.9" stroke-linejoin="round"/>
<circle cx="137.34" cy="342.55" r="1.35" fill="#b0002a"/>
<circle cx="144.62" cy="331.57" r="1.35" fill="#b0002a"/>
<circle cx="151.90" cy="320.58" r="1.35" fill="#b0002a"/>
<circle cx="159.18" cy="309.60" r="1.35" fill="#b0002a"/>
<circle cx="166.46" cy="299.73" r="1.35" fill="#b0002a"/>
<circle cx="173.74" cy="290.17" r="1.35" fill="#b0002a"/>
<circle cx="181.02" cy="281.77" r="1.35" fill="#b0002a"/>
<circle cx="188.30" cy="275.57" r="1.35" fill="#b0002a"/>
<circle cx="195.58" cy="271.41" r="1.35" fill="#b0002a"/>
<circle cx="202.86" cy="268.50" r="1.35" fill="#b0002a"/>
<circle cx="210.14" cy="266.51" r="1.35" fill="#b0002a"/>
<circle cx="217.42" cy="265.14" r="1.35" fill="#b0002a"/>
<circle cx="224.70" cy="263.93" r="1.35" fill="#b0002a"/>
<circle cx="231.98" cy="262.87" r="1.35" fill="#b0002a"/>
<circle cx="239.26" cy="262.10" r="1.35" fill="#b0002a"/>
<circle cx="246.54" cy="261.50" r="1.35" fill="#b0002a"/>
<polyline points="71.82,345.35 79.10,333.00 86.38,318.38 93.66,305.04 100.94,295.23 108.22,285.70 115.50,277.99 122.78,272.78 130.06,269.22 137.34,266.65 144.62,265.02 151.90,263.75 159.18,262.50 166.46,261.54 173.74,260.90 181.02,260.27 188.30,259.65 195.58,259.03 202.86,258.40 210.14,257.78 217.42,257.16 224.70,256.54 231.98,255.92 239.26,255.30 246.54,254.68" fill="none" stroke="#1f3f7c" stroke-width="1.0" stroke-linejoin="round"/>
<circle cx="71.82" cy="345.35" r="1.5" fill="#1f3f7c"/>
<circle cx="79.10" cy="333.00" r="1.5" fill="#1f3f7c"/>
<circle cx="86.38" cy="318.38" r="1.5" fill="#1f3f7c"/>
<circle cx="93.66" cy="305.04" r="1.5" fill="#1f3f7c"/>
<circle cx="100.94" cy="295.23" r="1.5" fill="#1f3f7c"/>
<circle cx="108.22" cy="285.70" r="1.5" fill="#1f3f7c"/>
<circle cx="115.50" cy="277.99" r="1.5" fill="#1f3f7c"/>
<circle cx="122.78" cy="272.78" r="1.5" fill="#1f3f7c"/>
<circle cx="130.06" cy="269.22" r="1.5" fill="#1f3f7c"/>
<circle cx="137.34" cy="266.65" r="1.5" fill="#1f3f7c"/>
<circle cx="144.62" cy="265.02" r="1.5" fill="#1f3f7c"/>
<circle cx="151.90" cy="263.75" r="1.5" fill="#1f3f7c"/>
<circle cx="159.18" cy="262.50" r="1.5" fill="#1f3f7c"/>
<circle cx="166.46" cy="261.54" r="1.5" fill="#1f3f7c"/>
<circle cx="173.74" cy="260.90" r="1.5" fill="#1f3f7c"/>
<circle cx="181.02" cy="260.27" r="1.5" fill="#1f3f7c"/>
<circle cx="188.30" cy="259.65" r="1.5" fill="#1f3f7c"/>
<circle cx="195.58" cy="259.03" r="1.5" fill="#1f3f7c"/>
<circle cx="202.86" cy="258.40" r="1.5" fill="#1f3f7c"/>
<circle cx="210.14" cy="257.78" r="1.5" fill="#1f3f7c"/>
<circle cx="217.42" cy="257.16" r="1.5" fill="#1f3f7c"/>
<circle cx="224.70" cy="256.54" r="1.5" fill="#1f3f7c"/>
<circle cx="231.98" cy="255.92" r="1.5" fill="#1f3f7c"/>
<circle cx="239.26" cy="255.30" r="1.5" fill="#1f3f7c"/>
<circle cx="246.54" cy="254.68" r="1.5" fill="#1f3f7c"/>
<polyline points="49.98,345.03 57.26,346.65 64.54,338.16 71.82,329.71 79.10,321.26 86.38,312.81 93.66,304.35 100.94,294.28 108.22,284.54 115.50,276.75 122.78,271.56 130.06,267.99 137.34,265.39 144.62,263.77 151.90,262.47 159.18,261.17 166.46,260.20 173.74,259.55 181.02,258.90 188.30,258.25 195.58,257.60 202.86,256.95 210.14,256.30 217.42,255.65 224.70,255.00 231.98,254.35 239.26,253.70 246.54,253.05" fill="none" stroke="#1f3f7c" stroke-width="1.0" stroke-linejoin="round"/>
<circle cx="49.98" cy="345.03" r="1.5" fill="#1f3f7c"/>
<circle cx="57.26" cy="346.65" r="1.5" fill="#1f3f7c"/>
<circle cx="64.54" cy="338.16" r="1.5" fill="#1f3f7c"/>
<circle cx="71.82" cy="329.71" r="1.5" fill="#1f3f7c"/>
<circle cx="79.10" cy="321.26" r="1.5" fill="#1f3f7c"/>
<circle cx="86.38" cy="312.81" r="1.5" fill="#1f3f7c"/>
<circle cx="93.66" cy="304.35" r="1.5" fill="#1f3f7c"/>
<circle cx="100.94" cy="294.28" r="1.5" fill="#1f3f7c"/>
<circle cx="108.22" cy="284.54" r="1.5" fill="#1f3f7c"/>
<circle cx="115.50" cy="276.75" r="1.5" fill="#1f3f7c"/>
<circle cx="122.78" cy="271.56" r="1.5" fill="#1f3f7c"/>
<circle cx="130.06" cy="267.99" r="1.5" fill="#1f3f7c"/>
<circle cx="137.34" cy="265.39" r="1.5" fill="#1f3f7c"/>
<circle cx="144.62" cy="263.77" r="1.5" fill="#1f3f7c"/>
<circle cx="151.90" cy="262.47" r="1.5" fill="#1f3f7c"/>
<circle cx="159.18" cy="261.17" r="1.5" fill="#1f3f7c"/>
<circle cx="166.46" cy="260.20" r="1.5" fill="#1f3f7c"/>
<circle cx="173.74" cy="259.55" r="1.5" fill="#1f3f7c"/>
<circle cx="181.02" cy="258.90" r="1.5" fill="#1f3f7c"/>
<circle cx="188.30" cy="258.25" r="1.5" fill="#1f3f7c"/>
<circle cx="195.58" cy="257.60" r="1.5" fill="#1f3f7c"/>
<circle cx="202.86" cy="256.95" r="1.5" fill="#1f3f7c"/>
<circle cx="210.14" cy="256.30" r="1.5" fill="#1f3f7c"/>
<circle cx="217.42" cy="255.65" r="1.5" fill="#1f3f7c"/>
<circle cx="224.70" cy="255.00" r="1.5" fill="#1f3f7c"/>
<circle cx="231.98" cy="254.35" r="1.5" fill="#1f3f7c"/>
<circle cx="239.26" cy="253.70" r="1.5" fill="#1f3f7c"/>
<circle cx="246.54" cy="253.05" r="1.5" fill="#1f3f7c"/>
<polyline points="79.10,338.52 86.38,344.05" fill="none" stroke="#1f3f7c" stroke-width="0.8" stroke-linejoin="round"/>
<circle cx="79.10" cy="338.52" r="1.2" fill="#1f3f7c"/>
<circle cx="86.38" cy="344.05" r="1.2" fill="#1f3f7c"/>
<polyline points="93.66,346.00" fill="none" stroke="#1f3f7c" stroke-width="0.8" stroke-linejoin="round"/>
<circle cx="93.66" cy="346.00" r="1.2" fill="#1f3f7c"/>
<polyline points="64.54,337.88 71.82,345.68" fill="none" stroke="#1f3f7c" stroke-width="0.8" stroke-linejoin="round"/>
<circle cx="64.54" cy="337.88" r="1.2" fill="#1f3f7c"/>
<circle cx="71.82" cy="345.68" r="1.2" fill="#1f3f7c"/>
<polyline points="42.70,350.55 49.98,331.70" fill="none" stroke="#8e9ecb" stroke-width="0.8" stroke-linejoin="round"/>
<circle cx="42.70" cy="350.55" r="1.2" fill="#8e9ecb"/>
<circle cx="49.98" cy="331.70" r="1.2" fill="#8e9ecb"/>
<polyline points="64.54,335.60 71.82,350.55 74.73,354.45" fill="none" stroke="#8e9ecb" stroke-width="0.8" stroke-linejoin="round"/>
<circle cx="64.54" cy="335.60" r="1.2" fill="#8e9ecb"/>
<circle cx="71.82" cy="350.55" r="1.2" fill="#8e9ecb"/>
<polyline points="86.38,352.18" fill="none" stroke="#8e9ecb" stroke-width="0.8" stroke-linejoin="round"/>
<circle cx="86.38" cy="352.18" r="1.1" fill="#8e9ecb"/>
<polyline points="108.22,350.55" fill="none" stroke="#5870a8" stroke-width="0.8" stroke-linejoin="round"/>
<circle cx="108.22" cy="350.55" r="1.2" fill="#5870a8"/>
<polyline points="42.70,351.85 49.98,353.48" fill="none" stroke="#b0002a" stroke-width="0.8" stroke-linejoin="round"/>
<circle cx="42.70" cy="351.85" r="1.2" fill="#b0002a"/>
<circle cx="49.98" cy="353.48" r="1.2" fill="#b0002a"/>
<polyline points="64.54,351.20" fill="none" stroke="#b0002a" stroke-width="0.8" stroke-linejoin="round"/>
<circle cx="64.54" cy="351.20" r="1.2" fill="#b0002a"/>
<polyline points="108.22,350.55 115.50,339.18 122.78,345.68 130.06,346.65 137.34,344.05 144.62,344.05" fill="none" stroke="#b0002a" stroke-width="0.8" stroke-linejoin="round"/>
<circle cx="108.22" cy="350.55" r="1.2" fill="#b0002a"/>
<circle cx="115.50" cy="339.18" r="1.2" fill="#b0002a"/>
<circle cx="122.78" cy="345.68" r="1.2" fill="#b0002a"/>
<circle cx="130.06" cy="346.65" r="1.2" fill="#b0002a"/>
<circle cx="137.34" cy="344.05" r="1.2" fill="#b0002a"/>
<circle cx="144.62" cy="344.05" r="1.2" fill="#b0002a"/>
<polyline points="115.50,352.18 122.78,347.95 130.06,350.55 137.34,345.68 144.62,340.80" fill="none" stroke="#b0002a" stroke-width="0.8" stroke-linejoin="round"/>
<circle cx="115.50" cy="352.18" r="1.2" fill="#b0002a"/>
<circle cx="122.78" cy="347.95" r="1.2" fill="#b0002a"/>
<circle cx="130.06" cy="350.55" r="1.2" fill="#b0002a"/>
<circle cx="137.34" cy="345.68" r="1.2" fill="#b0002a"/>
<circle cx="144.62" cy="340.80" r="1.2" fill="#b0002a"/>
<polyline points="130.06,353.80 137.34,350.55 144.62,353.80" fill="none" stroke="#b0002a" stroke-width="0.8" stroke-linejoin="round"/>
<circle cx="130.06" cy="353.80" r="1.2" fill="#b0002a"/>
<circle cx="137.34" cy="350.55" r="1.2" fill="#b0002a"/>
<circle cx="144.62" cy="353.80" r="1.2" fill="#b0002a"/>
<polyline points="42.70,338.20 44.88,354.12" fill="none" stroke="#4aa02c" stroke-width="0.9" stroke-linejoin="round"/>
<circle cx="42.70" cy="338.20" r="1.3" fill="#4aa02c"/>
<polyline points="55.08,354.12 57.26,340.80" fill="none" stroke="#4aa02c" stroke-width="0.9" stroke-linejoin="round"/>
<circle cx="57.26" cy="340.80" r="1.3" fill="#4aa02c"/>
<polyline points="217.42,340.48" fill="none" stroke="#4aa02c" stroke-width="0.9" stroke-linejoin="round"/>
<circle cx="217.42" cy="340.48" r="1.3" fill="#4aa02c"/>
<polyline points="231.98,351.85" fill="none" stroke="#4aa02c" stroke-width="0.9" stroke-linejoin="round"/>
<circle cx="231.98" cy="351.85" r="1.3" fill="#4aa02c"/>
<polyline points="244.36,354.12 246.54,332.68" fill="none" stroke="#4aa02c" stroke-width="0.9" stroke-linejoin="round"/>
<circle cx="246.54" cy="332.68" r="1.3" fill="#4aa02c"/>
</g>
<line x1="42.70" y1="306.30" x2="246.80" y2="306.30" stroke="#111" stroke-width="0.9"/>
<text x="246.50" y="304.50" font-size="6.0" fill="#111" text-anchor="end" textLength="22.50" lengthAdjust="spacingAndGlyphs" stroke="#111" stroke-width="0.08">threshold</text>
<line x1="42.70" y1="243.70" x2="42.70" y2="354.30" stroke="#000" stroke-width="1.4"/>
<line x1="42.20" y1="353.80" x2="250.80" y2="353.80" stroke="#000" stroke-width="1.2"/>
<line x1="40.20" y1="353.80" x2="42.70" y2="353.80" stroke="#000" stroke-width="0.8"/>
<line x1="41.20" y1="344.02" x2="42.70" y2="344.02" stroke="#000" stroke-width="0.5"/>
<line x1="41.20" y1="338.29" x2="42.70" y2="338.29" stroke="#000" stroke-width="0.5"/>
<line x1="41.20" y1="334.23" x2="42.70" y2="334.23" stroke="#000" stroke-width="0.5"/>
<line x1="41.20" y1="331.08" x2="42.70" y2="331.08" stroke="#000" stroke-width="0.5"/>
<line x1="41.20" y1="328.51" x2="42.70" y2="328.51" stroke="#000" stroke-width="0.5"/>
<line x1="41.20" y1="326.33" x2="42.70" y2="326.33" stroke="#000" stroke-width="0.5"/>
<line x1="41.20" y1="324.45" x2="42.70" y2="324.45" stroke="#000" stroke-width="0.5"/>
<line x1="41.20" y1="322.79" x2="42.70" y2="322.79" stroke="#000" stroke-width="0.5"/>
<line x1="40.20" y1="321.30" x2="42.70" y2="321.30" stroke="#000" stroke-width="0.8"/>
<line x1="41.20" y1="311.52" x2="42.70" y2="311.52" stroke="#000" stroke-width="0.5"/>
<line x1="41.20" y1="305.79" x2="42.70" y2="305.79" stroke="#000" stroke-width="0.5"/>
<line x1="41.20" y1="301.73" x2="42.70" y2="301.73" stroke="#000" stroke-width="0.5"/>
<line x1="41.20" y1="298.58" x2="42.70" y2="298.58" stroke="#000" stroke-width="0.5"/>
<line x1="41.20" y1="296.01" x2="42.70" y2="296.01" stroke="#000" stroke-width="0.5"/>
<line x1="41.20" y1="293.83" x2="42.70" y2="293.83" stroke="#000" stroke-width="0.5"/>
<line x1="41.20" y1="291.95" x2="42.70" y2="291.95" stroke="#000" stroke-width="0.5"/>
<line x1="41.20" y1="290.29" x2="42.70" y2="290.29" stroke="#000" stroke-width="0.5"/>
<line x1="40.20" y1="288.80" x2="42.70" y2="288.80" stroke="#000" stroke-width="0.8"/>
<line x1="41.20" y1="279.02" x2="42.70" y2="279.02" stroke="#000" stroke-width="0.5"/>
<line x1="41.20" y1="273.29" x2="42.70" y2="273.29" stroke="#000" stroke-width="0.5"/>
<line x1="41.20" y1="269.23" x2="42.70" y2="269.23" stroke="#000" stroke-width="0.5"/>
<line x1="41.20" y1="266.08" x2="42.70" y2="266.08" stroke="#000" stroke-width="0.5"/>
<line x1="41.20" y1="263.51" x2="42.70" y2="263.51" stroke="#000" stroke-width="0.5"/>
<line x1="41.20" y1="261.33" x2="42.70" y2="261.33" stroke="#000" stroke-width="0.5"/>
<line x1="41.20" y1="259.45" x2="42.70" y2="259.45" stroke="#000" stroke-width="0.5"/>
<line x1="41.20" y1="257.79" x2="42.70" y2="257.79" stroke="#000" stroke-width="0.5"/>
<line x1="40.20" y1="256.30" x2="42.70" y2="256.30" stroke="#000" stroke-width="0.8"/>
<line x1="41.20" y1="246.52" x2="42.70" y2="246.52" stroke="#000" stroke-width="0.5"/>
<text x="37.10" y="355.80" font-size="5.8" fill="#111" text-anchor="end" textLength="8.40" lengthAdjust="spacingAndGlyphs" stroke="#111" stroke-width="0.08">100</text>
<text x="37.10" y="323.30" font-size="5.8" fill="#111" text-anchor="end" textLength="11.20" lengthAdjust="spacingAndGlyphs" stroke="#111" stroke-width="0.08">1000</text>
<text x="37.10" y="290.80" font-size="5.8" fill="#111" text-anchor="end" textLength="14.00" lengthAdjust="spacingAndGlyphs" stroke="#111" stroke-width="0.08">10000</text>
<text x="37.10" y="258.30" font-size="5.8" fill="#111" text-anchor="end" textLength="16.80" lengthAdjust="spacingAndGlyphs" stroke="#111" stroke-width="0.08">100000</text>
<line x1="42.70" y1="353.80" x2="42.70" y2="356.60" stroke="#000" stroke-width="0.8"/>
<text x="42.70" y="364.80" font-size="6.0" fill="#111" text-anchor="middle" textLength="5.40" lengthAdjust="spacingAndGlyphs" stroke="#111" stroke-width="0.08">17</text>
<line x1="49.98" y1="353.80" x2="49.98" y2="356.60" stroke="#000" stroke-width="0.8"/>
<text x="49.98" y="364.80" font-size="6.0" fill="#111" text-anchor="middle" textLength="5.40" lengthAdjust="spacingAndGlyphs" stroke="#111" stroke-width="0.08">18</text>
<line x1="57.26" y1="353.80" x2="57.26" y2="356.60" stroke="#000" stroke-width="0.8"/>
<text x="57.26" y="364.80" font-size="6.0" fill="#111" text-anchor="middle" textLength="5.40" lengthAdjust="spacingAndGlyphs" stroke="#111" stroke-width="0.08">19</text>
<line x1="64.54" y1="353.80" x2="64.54" y2="356.60" stroke="#000" stroke-width="0.8"/>
<text x="64.54" y="364.80" font-size="6.0" fill="#111" text-anchor="middle" textLength="5.40" lengthAdjust="spacingAndGlyphs" stroke="#111" stroke-width="0.08">20</text>
<line x1="71.82" y1="353.80" x2="71.82" y2="356.60" stroke="#000" stroke-width="0.8"/>
<text x="71.82" y="364.80" font-size="6.0" fill="#111" text-anchor="middle" textLength="5.40" lengthAdjust="spacingAndGlyphs" stroke="#111" stroke-width="0.08">21</text>
<line x1="79.10" y1="353.80" x2="79.10" y2="356.60" stroke="#000" stroke-width="0.8"/>
<text x="79.10" y="364.80" font-size="6.0" fill="#111" text-anchor="middle" textLength="5.40" lengthAdjust="spacingAndGlyphs" stroke="#111" stroke-width="0.08">22</text>
<line x1="86.38" y1="353.80" x2="86.38" y2="356.60" stroke="#000" stroke-width="0.8"/>
<text x="86.38" y="364.80" font-size="6.0" fill="#111" text-anchor="middle" textLength="5.40" lengthAdjust="spacingAndGlyphs" stroke="#111" stroke-width="0.08">23</text>
<line x1="93.66" y1="353.80" x2="93.66" y2="356.60" stroke="#000" stroke-width="0.8"/>
<text x="93.66" y="364.80" font-size="6.0" fill="#111" text-anchor="middle" textLength="5.40" lengthAdjust="spacingAndGlyphs" stroke="#111" stroke-width="0.08">24</text>
<line x1="100.94" y1="353.80" x2="100.94" y2="356.60" stroke="#000" stroke-width="0.8"/>
<text x="100.94" y="364.80" font-size="6.0" fill="#111" text-anchor="middle" textLength="5.40" lengthAdjust="spacingAndGlyphs" stroke="#111" stroke-width="0.08">25</text>
<line x1="108.22" y1="353.80" x2="108.22" y2="356.60" stroke="#000" stroke-width="0.8"/>
<text x="108.22" y="364.80" font-size="6.0" fill="#111" text-anchor="middle" textLength="5.40" lengthAdjust="spacingAndGlyphs" stroke="#111" stroke-width="0.08">26</text>
<line x1="115.50" y1="353.80" x2="115.50" y2="356.60" stroke="#000" stroke-width="0.8"/>
<text x="115.50" y="364.80" font-size="6.0" fill="#111" text-anchor="middle" textLength="5.40" lengthAdjust="spacingAndGlyphs" stroke="#111" stroke-width="0.08">27</text>
<line x1="122.78" y1="353.80" x2="122.78" y2="356.60" stroke="#000" stroke-width="0.8"/>
<text x="122.78" y="364.80" font-size="6.0" fill="#111" text-anchor="middle" textLength="5.40" lengthAdjust="spacingAndGlyphs" stroke="#111" stroke-width="0.08">28</text>
<line x1="130.06" y1="353.80" x2="130.06" y2="356.60" stroke="#000" stroke-width="0.8"/>
<text x="130.06" y="364.80" font-size="6.0" fill="#111" text-anchor="middle" textLength="5.40" lengthAdjust="spacingAndGlyphs" stroke="#111" stroke-width="0.08">29</text>
<line x1="137.34" y1="353.80" x2="137.34" y2="356.60" stroke="#000" stroke-width="0.8"/>
<text x="137.34" y="364.80" font-size="6.0" fill="#111" text-anchor="middle" textLength="5.40" lengthAdjust="spacingAndGlyphs" stroke="#111" stroke-width="0.08">30</text>
<line x1="144.62" y1="353.80" x2="144.62" y2="356.60" stroke="#000" stroke-width="0.8"/>
<text x="144.62" y="364.80" font-size="6.0" fill="#111" text-anchor="middle" textLength="5.40" lengthAdjust="spacingAndGlyphs" stroke="#111" stroke-width="0.08">31</text>
<line x1="151.90" y1="353.80" x2="151.90" y2="356.60" stroke="#000" stroke-width="0.8"/>
<text x="151.90" y="364.80" font-size="6.0" fill="#111" text-anchor="middle" textLength="5.40" lengthAdjust="spacingAndGlyphs" stroke="#111" stroke-width="0.08">32</text>
<line x1="159.18" y1="353.80" x2="159.18" y2="356.60" stroke="#000" stroke-width="0.8"/>
<text x="159.18" y="364.80" font-size="6.0" fill="#111" text-anchor="middle" textLength="5.40" lengthAdjust="spacingAndGlyphs" stroke="#111" stroke-width="0.08">33</text>
<line x1="166.46" y1="353.80" x2="166.46" y2="356.60" stroke="#000" stroke-width="0.8"/>
<text x="166.46" y="364.80" font-size="6.0" fill="#111" text-anchor="middle" textLength="5.40" lengthAdjust="spacingAndGlyphs" stroke="#111" stroke-width="0.08">34</text>
<line x1="173.74" y1="353.80" x2="173.74" y2="356.60" stroke="#000" stroke-width="0.8"/>
<text x="173.74" y="364.80" font-size="6.0" fill="#111" text-anchor="middle" textLength="5.40" lengthAdjust="spacingAndGlyphs" stroke="#111" stroke-width="0.08">35</text>
<line x1="181.02" y1="353.80" x2="181.02" y2="356.60" stroke="#000" stroke-width="0.8"/>
<text x="181.02" y="364.80" font-size="6.0" fill="#111" text-anchor="middle" textLength="5.40" lengthAdjust="spacingAndGlyphs" stroke="#111" stroke-width="0.08">36</text>
<line x1="188.30" y1="353.80" x2="188.30" y2="356.60" stroke="#000" stroke-width="0.8"/>
<text x="188.30" y="364.80" font-size="6.0" fill="#111" text-anchor="middle" textLength="5.40" lengthAdjust="spacingAndGlyphs" stroke="#111" stroke-width="0.08">37</text>
<line x1="195.58" y1="353.80" x2="195.58" y2="356.60" stroke="#000" stroke-width="0.8"/>
<text x="195.58" y="364.80" font-size="6.0" fill="#111" text-anchor="middle" textLength="5.40" lengthAdjust="spacingAndGlyphs" stroke="#111" stroke-width="0.08">38</text>
<line x1="202.86" y1="353.80" x2="202.86" y2="356.60" stroke="#000" stroke-width="0.8"/>
<text x="202.86" y="364.80" font-size="6.0" fill="#111" text-anchor="middle" textLength="5.40" lengthAdjust="spacingAndGlyphs" stroke="#111" stroke-width="0.08">39</text>
<line x1="210.14" y1="353.80" x2="210.14" y2="356.60" stroke="#000" stroke-width="0.8"/>
<text x="210.14" y="364.80" font-size="6.0" fill="#111" text-anchor="middle" textLength="5.40" lengthAdjust="spacingAndGlyphs" stroke="#111" stroke-width="0.08">40</text>
<line x1="217.42" y1="353.80" x2="217.42" y2="356.60" stroke="#000" stroke-width="0.8"/>
<text x="217.42" y="364.80" font-size="6.0" fill="#111" text-anchor="middle" textLength="5.40" lengthAdjust="spacingAndGlyphs" stroke="#111" stroke-width="0.08">41</text>
<line x1="224.70" y1="353.80" x2="224.70" y2="356.60" stroke="#000" stroke-width="0.8"/>
<text x="224.70" y="364.80" font-size="6.0" fill="#111" text-anchor="middle" textLength="5.40" lengthAdjust="spacingAndGlyphs" stroke="#111" stroke-width="0.08">42</text>
<line x1="231.98" y1="353.80" x2="231.98" y2="356.60" stroke="#000" stroke-width="0.8"/>
<text x="231.98" y="364.80" font-size="6.0" fill="#111" text-anchor="middle" textLength="5.40" lengthAdjust="spacingAndGlyphs" stroke="#111" stroke-width="0.08">43</text>
<line x1="239.26" y1="353.80" x2="239.26" y2="356.60" stroke="#000" stroke-width="0.8"/>
<text x="239.26" y="364.80" font-size="6.0" fill="#111" text-anchor="middle" textLength="5.40" lengthAdjust="spacingAndGlyphs" stroke="#111" stroke-width="0.08">44</text>
<line x1="246.54" y1="353.80" x2="246.54" y2="356.60" stroke="#000" stroke-width="0.8"/>
<text x="246.54" y="364.80" font-size="6.0" fill="#111" text-anchor="middle" textLength="5.40" lengthAdjust="spacingAndGlyphs" stroke="#111" stroke-width="0.08">45</text>
<text x="94.60" y="279.40" font-size="5.6" fill="#111" text-anchor="start" textLength="12.70" lengthAdjust="spacingAndGlyphs" stroke="#111" stroke-width="0.08">1E-01</text>
<text x="115.40" y="289.30" font-size="5.6" fill="#111" text-anchor="start" textLength="12.70" lengthAdjust="spacingAndGlyphs" stroke="#111" stroke-width="0.08">1E-02</text>
<text x="130.80" y="298.10" font-size="5.6" fill="#111" text-anchor="start" textLength="12.70" lengthAdjust="spacingAndGlyphs" stroke="#111" stroke-width="0.08">1E-03</text>
<text x="143.80" y="305.00" font-size="5.6" fill="#111" text-anchor="start" textLength="12.70" lengthAdjust="spacingAndGlyphs" stroke="#111" stroke-width="0.08">1E-04</text>
<text x="192.40" y="316.30" font-size="6.2" fill="#b0002a" text-anchor="middle" textLength="42.80" lengthAdjust="spacingAndGlyphs" stroke="#b0002a" stroke-width="0.08">mutation negative</text>
<text x="192.40" y="322.30" font-size="6.2" fill="#b0002a" text-anchor="middle" textLength="29.80" lengthAdjust="spacingAndGlyphs" stroke="#b0002a" stroke-width="0.08">DNA control</text>
<text x="192.30" y="349.00" font-size="6.2" fill="#4aa02c" text-anchor="start" textLength="47.50" lengthAdjust="spacingAndGlyphs" stroke="#4aa02c" stroke-width="0.08">no template control</text>
<text x="389.80" y="240.80" font-size="8.5" fill="#111" text-anchor="start" textLength="33.70" lengthAdjust="spacingAndGlyphs" stroke="#111" stroke-width="0.08">p.R367Q</text>
<text x="271.60" y="299.10" font-size="7.2" fill="#111" text-anchor="middle" textLength="82.00" lengthAdjust="spacingAndGlyphs" transform="rotate(-90 271.60 299.10)" stroke="#111" stroke-width="0.08">Relative fluorescence (ΔRn)</text>
<text x="405.00" y="376.20" font-size="8.8" fill="#111" text-anchor="middle" textLength="40.40" lengthAdjust="spacingAndGlyphs" stroke="#111" stroke-width="0.08">Cycle number</text>
<clipPath id="clipR"><rect x="300.0" y="242.4" width="215.70000000000005" height="111.29999999999998"/></clipPath>
<g clip-path="url(#clipR)">
<polyline points="352.50,362.23 360.00,352.62 367.50,343.60 375.00,335.04 382.50,326.91 390.00,319.21 397.50,311.97 405.00,305.27 412.50,299.21 420.00,293.88 427.50,289.33 435.00,285.57 442.50,282.53 450.00,280.11 457.50,278.19 465.00,276.65 472.50,275.39 480.00,274.34 487.50,273.42 495.00,272.62 502.50,271.89 510.00,271.22" fill="none" stroke="#8e9ecb" stroke-width="0.8" stroke-linejoin="round"/>
<circle cx="360.00" cy="352.62" r="1.1" fill="#8e9ecb"/>
<circle cx="367.50" cy="343.60" r="1.1" fill="#8e9ecb"/>
<circle cx="375.00" cy="335.04" r="1.1" fill="#8e9ecb"/>
<circle cx="382.50" cy="326.91" r="1.1" fill="#8e9ecb"/>
<circle cx="390.00" cy="319.21" r="1.1" fill="#8e9ecb"/>
<circle cx="397.50" cy="311.97" r="1.1" fill="#8e9ecb"/>
<circle cx="405.00" cy="305.27" r="1.1" fill="#8e9ecb"/>
<circle cx="412.50" cy="299.21" r="1.1" fill="#8e9ecb"/>
<circle cx="420.00" cy="293.88" r="1.1" fill="#8e9ecb"/>
<circle cx="427.50" cy="289.33" r="1.1" fill="#8e9ecb"/>
<circle cx="435.00" cy="285.57" r="1.1" fill="#8e9ecb"/>
<circle cx="442.50" cy="282.53" r="1.1" fill="#8e9ecb"/>
<circle cx="450.00" cy="280.11" r="1.1" fill="#8e9ecb"/>
<circle cx="457.50" cy="278.19" r="1.1" fill="#8e9ecb"/>
<circle cx="465.00" cy="276.65" r="1.1" fill="#8e9ecb"/>
<circle cx="472.50" cy="275.39" r="1.1" fill="#8e9ecb"/>
<circle cx="480.00" cy="274.34" r="1.1" fill="#8e9ecb"/>
<circle cx="487.50" cy="273.42" r="1.1" fill="#8e9ecb"/>
<circle cx="495.00" cy="272.62" r="1.1" fill="#8e9ecb"/>
<circle cx="502.50" cy="271.89" r="1.1" fill="#8e9ecb"/>
<circle cx="510.00" cy="271.22" r="1.1" fill="#8e9ecb"/>
<polyline points="360.00,369.35 367.50,358.43 375.00,347.95 382.50,337.85 390.00,328.16 397.50,318.96 405.00,310.39 412.50,302.67 420.00,296.00 427.50,290.55 435.00,286.32 442.50,283.16 450.00,280.84 457.50,279.11 465.00,277.77 472.50,276.70 480.00,275.79 487.50,274.99 495.00,274.27 502.50,273.60 510.00,272.97" fill="none" stroke="#8e9ecb" stroke-width="0.8" stroke-linejoin="round"/>
<circle cx="375.00" cy="347.95" r="1.1" fill="#8e9ecb"/>
<circle cx="382.50" cy="337.85" r="1.1" fill="#8e9ecb"/>
<circle cx="390.00" cy="328.16" r="1.1" fill="#8e9ecb"/>
<circle cx="397.50" cy="318.96" r="1.1" fill="#8e9ecb"/>
<circle cx="405.00" cy="310.39" r="1.1" fill="#8e9ecb"/>
<circle cx="412.50" cy="302.67" r="1.1" fill="#8e9ecb"/>
<circle cx="420.00" cy="296.00" r="1.1" fill="#8e9ecb"/>
<circle cx="427.50" cy="290.55" r="1.1" fill="#8e9ecb"/>
<circle cx="435.00" cy="286.32" r="1.1" fill="#8e9ecb"/>
<circle cx="442.50" cy="283.16" r="1.1" fill="#8e9ecb"/>
<circle cx="450.00" cy="280.84" r="1.1" fill="#8e9ecb"/>
<circle cx="457.50" cy="279.11" r="1.1" fill="#8e9ecb"/>
<circle cx="465.00" cy="277.77" r="1.1" fill="#8e9ecb"/>
<circle cx="472.50" cy="276.70" r="1.1" fill="#8e9ecb"/>
<circle cx="480.00" cy="275.79" r="1.1" fill="#8e9ecb"/>
<circle cx="487.50" cy="274.99" r="1.1" fill="#8e9ecb"/>
<circle cx="495.00" cy="274.27" r="1.1" fill="#8e9ecb"/>
<circle cx="502.50" cy="273.60" r="1.1" fill="#8e9ecb"/>
<circle cx="510.00" cy="272.97" r="1.1" fill="#8e9ecb"/>
<polyline points="367.50,355.07 375.00,345.43 382.50,336.19 390.00,327.37 397.50,319.03 405.00,311.27 412.50,304.24 420.00,298.10 427.50,292.96 435.00,288.83 442.50,285.62 450.00,283.18 457.50,281.31 465.00,279.85 472.50,278.67 480.00,277.68 487.50,276.83 495.00,276.07 502.50,275.37 510.00,274.72" fill="none" stroke="#8e9ecb" stroke-width="0.8" stroke-linejoin="round"/>
<circle cx="375.00" cy="345.43" r="1.1" fill="#8e9ecb"/>
<circle cx="382.50" cy="336.19" r="1.1" fill="#8e9ecb"/>
<circle cx="390.00" cy="327.37" r="1.1" fill="#8e9ecb"/>
<circle cx="397.50" cy="319.03" r="1.1" fill="#8e9ecb"/>
<circle cx="405.00" cy="311.27" r="1.1" fill="#8e9ecb"/>
<circle cx="412.50" cy="304.24" r="1.1" fill="#8e9ecb"/>
<circle cx="420.00" cy="298.10" r="1.1" fill="#8e9ecb"/>
<circle cx="427.50" cy="292.96" r="1.1" fill="#8e9ecb"/>
<circle cx="435.00" cy="288.83" r="1.1" fill="#8e9ecb"/>
<circle cx="442.50" cy="285.62" r="1.1" fill="#8e9ecb"/>
<circle cx="450.00" cy="283.18" r="1.1" fill="#8e9ecb"/>
<circle cx="457.50" cy="281.31" r="1.1" fill="#8e9ecb"/>
<circle cx="465.00" cy="279.85" r="1.1" fill="#8e9ecb"/>
<circle cx="472.50" cy="278.67" r="1.1" fill="#8e9ecb"/>
<circle cx="480.00" cy="277.68" r="1.1" fill="#8e9ecb"/>
<circle cx="487.50" cy="276.83" r="1.1" fill="#8e9ecb"/>
<circle cx="495.00" cy="276.07" r="1.1" fill="#8e9ecb"/>
<circle cx="502.50" cy="275.37" r="1.1" fill="#8e9ecb"/>
<circle cx="510.00" cy="274.72" r="1.1" fill="#8e9ecb"/>
<polyline points="375.00,361.24 382.50,349.90 390.00,338.92 397.50,328.39 405.00,318.43 412.50,309.31 420.00,301.35 427.50,294.82 435.00,289.83 442.50,286.23 450.00,283.70 457.50,281.89 465.00,280.55 472.50,279.48 480.00,278.58 487.50,277.80 495.00,277.08 502.50,276.41 510.00,275.78" fill="none" stroke="#8e9ecb" stroke-width="0.8" stroke-linejoin="round"/>
<circle cx="382.50" cy="349.90" r="1.1" fill="#8e9ecb"/>
<circle cx="390.00" cy="338.92" r="1.1" fill="#8e9ecb"/>
<circle cx="397.50" cy="328.39" r="1.1" fill="#8e9ecb"/>
<circle cx="405.00" cy="318.43" r="1.1" fill="#8e9ecb"/>
<circle cx="412.50" cy="309.31" r="1.1" fill="#8e9ecb"/>
<circle cx="420.00" cy="301.35" r="1.1" fill="#8e9ecb"/>
<circle cx="427.50" cy="294.82" r="1.1" fill="#8e9ecb"/>
<circle cx="435.00" cy="289.83" r="1.1" fill="#8e9ecb"/>
<circle cx="442.50" cy="286.23" r="1.1" fill="#8e9ecb"/>
<circle cx="450.00" cy="283.70" r="1.1" fill="#8e9ecb"/>
<circle cx="457.50" cy="281.89" r="1.1" fill="#8e9ecb"/>
<circle cx="465.00" cy="280.55" r="1.1" fill="#8e9ecb"/>
<circle cx="472.50" cy="279.48" r="1.1" fill="#8e9ecb"/>
<circle cx="480.00" cy="278.58" r="1.1" fill="#8e9ecb"/>
<circle cx="487.50" cy="277.80" r="1.1" fill="#8e9ecb"/>
<circle cx="495.00" cy="277.08" r="1.1" fill="#8e9ecb"/>
<circle cx="502.50" cy="276.41" r="1.1" fill="#8e9ecb"/>
<circle cx="510.00" cy="275.78" r="1.1" fill="#8e9ecb"/>
<polyline points="367.50,360.23 375.00,347.97 382.50,336.07 390.00,324.53 397.50,313.46 405.00,303.05 412.50,293.61 420.00,285.54 427.50,279.15 435.00,274.47 442.50,271.23 450.00,269.00 457.50,267.43 465.00,266.24 472.50,265.28 480.00,264.44 487.50,263.70 495.00,263.01 502.50,262.36 510.00,261.74" fill="none" stroke="#5870a8" stroke-width="0.9" stroke-linejoin="round"/>
<circle cx="375.00" cy="347.97" r="1.2" fill="#5870a8"/>
<circle cx="382.50" cy="336.07" r="1.2" fill="#5870a8"/>
<circle cx="390.00" cy="324.53" r="1.2" fill="#5870a8"/>
<circle cx="397.50" cy="313.46" r="1.2" fill="#5870a8"/>
<circle cx="405.00" cy="303.05" r="1.2" fill="#5870a8"/>
<circle cx="412.50" cy="293.61" r="1.2" fill="#5870a8"/>
<circle cx="420.00" cy="285.54" r="1.2" fill="#5870a8"/>
<circle cx="427.50" cy="279.15" r="1.2" fill="#5870a8"/>
<circle cx="435.00" cy="274.47" r="1.2" fill="#5870a8"/>
<circle cx="442.50" cy="271.23" r="1.2" fill="#5870a8"/>
<circle cx="450.00" cy="269.00" r="1.2" fill="#5870a8"/>
<circle cx="457.50" cy="267.43" r="1.2" fill="#5870a8"/>
<circle cx="465.00" cy="266.24" r="1.2" fill="#5870a8"/>
<circle cx="472.50" cy="265.28" r="1.2" fill="#5870a8"/>
<circle cx="480.00" cy="264.44" r="1.2" fill="#5870a8"/>
<circle cx="487.50" cy="263.70" r="1.2" fill="#5870a8"/>
<circle cx="495.00" cy="263.01" r="1.2" fill="#5870a8"/>
<circle cx="502.50" cy="262.36" r="1.2" fill="#5870a8"/>
<circle cx="510.00" cy="261.74" r="1.2" fill="#5870a8"/>
<polyline points="367.50,361.21 375.00,348.95 382.50,337.04 390.00,325.49 397.50,314.41 405.00,303.98 412.50,294.51 420.00,286.40 427.50,279.97 435.00,275.25 442.50,271.98 450.00,269.74 457.50,268.15 465.00,266.95 472.50,265.98 480.00,265.15 487.50,264.40 495.00,263.71 502.50,263.06 510.00,262.44" fill="none" stroke="#5870a8" stroke-width="0.9" stroke-linejoin="round"/>
<circle cx="375.00" cy="348.95" r="1.2" fill="#5870a8"/>
<circle cx="382.50" cy="337.04" r="1.2" fill="#5870a8"/>
<circle cx="390.00" cy="325.49" r="1.2" fill="#5870a8"/>
<circle cx="397.50" cy="314.41" r="1.2" fill="#5870a8"/>
<circle cx="405.00" cy="303.98" r="1.2" fill="#5870a8"/>
<circle cx="412.50" cy="294.51" r="1.2" fill="#5870a8"/>
<circle cx="420.00" cy="286.40" r="1.2" fill="#5870a8"/>
<circle cx="427.50" cy="279.97" r="1.2" fill="#5870a8"/>
<circle cx="435.00" cy="275.25" r="1.2" fill="#5870a8"/>
<circle cx="442.50" cy="271.98" r="1.2" fill="#5870a8"/>
<circle cx="450.00" cy="269.74" r="1.2" fill="#5870a8"/>
<circle cx="457.50" cy="268.15" r="1.2" fill="#5870a8"/>
<circle cx="465.00" cy="266.95" r="1.2" fill="#5870a8"/>
<circle cx="472.50" cy="265.98" r="1.2" fill="#5870a8"/>
<circle cx="480.00" cy="265.15" r="1.2" fill="#5870a8"/>
<circle cx="487.50" cy="264.40" r="1.2" fill="#5870a8"/>
<circle cx="495.00" cy="263.71" r="1.2" fill="#5870a8"/>
<circle cx="502.50" cy="263.06" r="1.2" fill="#5870a8"/>
<circle cx="510.00" cy="262.44" r="1.2" fill="#5870a8"/>
<polyline points="367.50,353.00 375.00,327.38 382.50,310.53 390.00,296.32 397.50,286.10 405.00,277.02 412.50,270.27 420.00,264.68 427.50,261.08 435.00,258.60 442.50,256.83 450.00,255.43 457.50,254.37 465.00,253.88 472.50,253.44 480.00,252.99 487.50,252.55 495.00,252.10 502.50,251.65 510.00,251.21" fill="none" stroke="#4863a3" stroke-width="0.9" stroke-linejoin="round"/>
<circle cx="367.50" cy="353.00" r="1.2" fill="#4863a3"/>
<circle cx="375.00" cy="327.38" r="1.2" fill="#4863a3"/>
<circle cx="382.50" cy="310.53" r="1.2" fill="#4863a3"/>
<circle cx="390.00" cy="296.32" r="1.2" fill="#4863a3"/>
<circle cx="397.50" cy="286.10" r="1.2" fill="#4863a3"/>
<circle cx="405.00" cy="277.02" r="1.2" fill="#4863a3"/>
<circle cx="412.50" cy="270.27" r="1.2" fill="#4863a3"/>
<circle cx="420.00" cy="264.68" r="1.2" fill="#4863a3"/>
<circle cx="427.50" cy="261.08" r="1.2" fill="#4863a3"/>
<circle cx="435.00" cy="258.60" r="1.2" fill="#4863a3"/>
<circle cx="442.50" cy="256.83" r="1.2" fill="#4863a3"/>
<circle cx="450.00" cy="255.43" r="1.2" fill="#4863a3"/>
<circle cx="457.50" cy="254.37" r="1.2" fill="#4863a3"/>
<circle cx="465.00" cy="253.88" r="1.2" fill="#4863a3"/>
<circle cx="472.50" cy="253.44" r="1.2" fill="#4863a3"/>
<circle cx="480.00" cy="252.99" r="1.2" fill="#4863a3"/>
<circle cx="487.50" cy="252.55" r="1.2" fill="#4863a3"/>
<circle cx="495.00" cy="252.10" r="1.2" fill="#4863a3"/>
<circle cx="502.50" cy="251.65" r="1.2" fill="#4863a3"/>
<circle cx="510.00" cy="251.21" r="1.2" fill="#4863a3"/>
<polyline points="367.50,353.00 375.00,327.38 382.50,310.53 390.00,297.25 397.50,286.95 405.00,277.86 412.50,271.00 420.00,265.40 427.50,261.69 435.00,259.16 442.50,257.36 450.00,255.96 457.50,254.89 465.00,254.36 472.50,253.93 480.00,253.49 487.50,253.05 495.00,252.61 502.50,252.17 510.00,251.73" fill="none" stroke="#4863a3" stroke-width="0.9" stroke-linejoin="round"/>
<circle cx="367.50" cy="353.00" r="1.2" fill="#4863a3"/>
<circle cx="375.00" cy="327.38" r="1.2" fill="#4863a3"/>
<circle cx="382.50" cy="310.53" r="1.2" fill="#4863a3"/>
<circle cx="390.00" cy="297.25" r="1.2" fill="#4863a3"/>
<circle cx="397.50" cy="286.95" r="1.2" fill="#4863a3"/>
<circle cx="405.00" cy="277.86" r="1.2" fill="#4863a3"/>
<circle cx="412.50" cy="271.00" r="1.2" fill="#4863a3"/>
<circle cx="420.00" cy="265.40" r="1.2" fill="#4863a3"/>
<circle cx="427.50" cy="261.69" r="1.2" fill="#4863a3"/>
<circle cx="435.00" cy="259.16" r="1.2" fill="#4863a3"/>
<circle cx="442.50" cy="257.36" r="1.2" fill="#4863a3"/>
<circle cx="450.00" cy="255.96" r="1.2" fill="#4863a3"/>
<circle cx="457.50" cy="254.89" r="1.2" fill="#4863a3"/>
<circle cx="465.00" cy="254.36" r="1.2" fill="#4863a3"/>
<circle cx="472.50" cy="253.93" r="1.2" fill="#4863a3"/>
<circle cx="480.00" cy="253.49" r="1.2" fill="#4863a3"/>
<circle cx="487.50" cy="253.05" r="1.2" fill="#4863a3"/>
<circle cx="495.00" cy="252.61" r="1.2" fill="#4863a3"/>
<circle cx="502.50" cy="252.17" r="1.2" fill="#4863a3"/>
<circle cx="510.00" cy="251.73" r="1.2" fill="#4863a3"/>
<polyline points="397.50,346.68 405.00,341.41 412.50,314.71 420.00,305.18 427.50,298.33 435.00,293.85 442.50,290.99 450.00,289.07 457.50,287.65 465.00,286.48 472.50,285.46 480.00,284.54 487.50,283.69 495.00,282.88 502.50,282.12 510.00,281.39" fill="none" stroke="#b0002a" stroke-width="0.85" stroke-linejoin="round"/>
<circle cx="397.50" cy="346.68" r="1.2" fill="#b0002a"/>
<circle cx="405.00" cy="341.41" r="1.2" fill="#b0002a"/>
<circle cx="412.50" cy="314.71" r="1.2" fill="#b0002a"/>
<circle cx="420.00" cy="305.18" r="1.2" fill="#b0002a"/>
<circle cx="427.50" cy="298.33" r="1.2" fill="#b0002a"/>
<circle cx="435.00" cy="293.85" r="1.2" fill="#b0002a"/>
<circle cx="442.50" cy="290.99" r="1.2" fill="#b0002a"/>
<circle cx="450.00" cy="289.07" r="1.2" fill="#b0002a"/>
<circle cx="457.50" cy="287.65" r="1.2" fill="#b0002a"/>
<circle cx="465.00" cy="286.48" r="1.2" fill="#b0002a"/>
<circle cx="472.50" cy="285.46" r="1.2" fill="#b0002a"/>
<circle cx="480.00" cy="284.54" r="1.2" fill="#b0002a"/>
<circle cx="487.50" cy="283.69" r="1.2" fill="#b0002a"/>
<circle cx="495.00" cy="282.88" r="1.2" fill="#b0002a"/>
<circle cx="502.50" cy="282.12" r="1.2" fill="#b0002a"/>
<circle cx="510.00" cy="281.39" r="1.2" fill="#b0002a"/>
<polyline points="397.50,353.70 405.00,336.15 412.50,315.82 420.00,305.68 427.50,298.18 435.00,293.18 442.50,290.00 450.00,287.90 457.50,286.39 465.00,285.17 472.50,284.12 480.00,283.18 487.50,282.31 495.00,281.49 502.50,280.72 510.00,279.99" fill="none" stroke="#b0002a" stroke-width="0.85" stroke-linejoin="round"/>
<circle cx="397.50" cy="353.70" r="1.2" fill="#b0002a"/>
<circle cx="405.00" cy="336.15" r="1.2" fill="#b0002a"/>
<circle cx="412.50" cy="315.82" r="1.2" fill="#b0002a"/>
<circle cx="420.00" cy="305.68" r="1.2" fill="#b0002a"/>
<circle cx="427.50" cy="298.18" r="1.2" fill="#b0002a"/>
<circle cx="435.00" cy="293.18" r="1.2" fill="#b0002a"/>
<circle cx="442.50" cy="290.00" r="1.2" fill="#b0002a"/>
<circle cx="450.00" cy="287.90" r="1.2" fill="#b0002a"/>
<circle cx="457.50" cy="286.39" r="1.2" fill="#b0002a"/>
<circle cx="465.00" cy="285.17" r="1.2" fill="#b0002a"/>
<circle cx="472.50" cy="284.12" r="1.2" fill="#b0002a"/>
<circle cx="480.00" cy="283.18" r="1.2" fill="#b0002a"/>
<circle cx="487.50" cy="282.31" r="1.2" fill="#b0002a"/>
<circle cx="495.00" cy="281.49" r="1.2" fill="#b0002a"/>
<circle cx="502.50" cy="280.72" r="1.2" fill="#b0002a"/>
<circle cx="510.00" cy="279.99" r="1.2" fill="#b0002a"/>
<polyline points="390.00,350.19 397.50,343.17 405.00,332.64 412.50,316.66 420.00,306.10 427.50,298.12 435.00,292.72 442.50,289.29 450.00,287.04 457.50,285.45 465.00,284.19 472.50,283.12 480.00,282.16 487.50,281.28 495.00,280.46 502.50,279.68 510.00,278.94" fill="none" stroke="#b0002a" stroke-width="0.85" stroke-linejoin="round"/>
<circle cx="390.00" cy="350.19" r="1.2" fill="#b0002a"/>
<circle cx="397.50" cy="343.17" r="1.2" fill="#b0002a"/>
<circle cx="405.00" cy="332.64" r="1.2" fill="#b0002a"/>
<circle cx="412.50" cy="316.66" r="1.2" fill="#b0002a"/>
<circle cx="420.00" cy="306.10" r="1.2" fill="#b0002a"/>
<circle cx="427.50" cy="298.12" r="1.2" fill="#b0002a"/>
<circle cx="435.00" cy="292.72" r="1.2" fill="#b0002a"/>
<circle cx="442.50" cy="289.29" r="1.2" fill="#b0002a"/>
<circle cx="450.00" cy="287.04" r="1.2" fill="#b0002a"/>
<circle cx="457.50" cy="285.45" r="1.2" fill="#b0002a"/>
<circle cx="465.00" cy="284.19" r="1.2" fill="#b0002a"/>
<circle cx="472.50" cy="283.12" r="1.2" fill="#b0002a"/>
<circle cx="480.00" cy="282.16" r="1.2" fill="#b0002a"/>
<circle cx="487.50" cy="281.28" r="1.2" fill="#b0002a"/>
<circle cx="495.00" cy="280.46" r="1.2" fill="#b0002a"/>
<circle cx="502.50" cy="279.68" r="1.2" fill="#b0002a"/>
<circle cx="510.00" cy="278.94" r="1.2" fill="#b0002a"/>
<polyline points="397.50,354.40 405.00,329.13 412.50,317.30 420.00,306.39 427.50,298.00 435.00,292.24 442.50,288.55 450.00,286.17 457.50,284.50 465.00,283.20 472.50,282.11 480.00,281.14 487.50,280.25 495.00,279.42 502.50,278.63 510.00,277.88" fill="none" stroke="#b0002a" stroke-width="0.85" stroke-linejoin="round"/>
<circle cx="397.50" cy="354.40" r="1.2" fill="#b0002a"/>
<circle cx="405.00" cy="329.13" r="1.2" fill="#b0002a"/>
<circle cx="412.50" cy="317.30" r="1.2" fill="#b0002a"/>
<circle cx="420.00" cy="306.39" r="1.2" fill="#b0002a"/>
<circle cx="427.50" cy="298.00" r="1.2" fill="#b0002a"/>
<circle cx="435.00" cy="292.24" r="1.2" fill="#b0002a"/>
<circle cx="442.50" cy="288.55" r="1.2" fill="#b0002a"/>
<circle cx="450.00" cy="286.17" r="1.2" fill="#b0002a"/>
<circle cx="457.50" cy="284.50" r="1.2" fill="#b0002a"/>
<circle cx="465.00" cy="283.20" r="1.2" fill="#b0002a"/>
<circle cx="472.50" cy="282.11" r="1.2" fill="#b0002a"/>
<circle cx="480.00" cy="281.14" r="1.2" fill="#b0002a"/>
<circle cx="487.50" cy="280.25" r="1.2" fill="#b0002a"/>
<circle cx="495.00" cy="279.42" r="1.2" fill="#b0002a"/>
<circle cx="502.50" cy="278.63" r="1.2" fill="#b0002a"/>
<circle cx="510.00" cy="277.88" r="1.2" fill="#b0002a"/>
<polyline points="397.50,346.68 405.00,337.90 412.50,317.48 420.00,306.27 427.50,297.50 435.00,291.39 442.50,287.47 450.00,284.94 457.50,283.20 465.00,281.86 472.50,280.75 480.00,279.76 487.50,278.86 495.00,278.02 502.50,277.23 510.00,276.48" fill="none" stroke="#b0002a" stroke-width="0.85" stroke-linejoin="round"/>
<circle cx="397.50" cy="346.68" r="1.2" fill="#b0002a"/>
<circle cx="405.00" cy="337.90" r="1.2" fill="#b0002a"/>
<circle cx="412.50" cy="317.48" r="1.2" fill="#b0002a"/>
<circle cx="420.00" cy="306.27" r="1.2" fill="#b0002a"/>
<circle cx="427.50" cy="297.50" r="1.2" fill="#b0002a"/>
<circle cx="435.00" cy="291.39" r="1.2" fill="#b0002a"/>
<circle cx="442.50" cy="287.47" r="1.2" fill="#b0002a"/>
<circle cx="450.00" cy="284.94" r="1.2" fill="#b0002a"/>
<circle cx="457.50" cy="283.20" r="1.2" fill="#b0002a"/>
<circle cx="465.00" cy="281.86" r="1.2" fill="#b0002a"/>
<circle cx="472.50" cy="280.75" r="1.2" fill="#b0002a"/>
<circle cx="480.00" cy="279.76" r="1.2" fill="#b0002a"/>
<circle cx="487.50" cy="278.86" r="1.2" fill="#b0002a"/>
<circle cx="495.00" cy="278.02" r="1.2" fill="#b0002a"/>
<circle cx="502.50" cy="277.23" r="1.2" fill="#b0002a"/>
<circle cx="510.00" cy="276.48" r="1.2" fill="#b0002a"/>
<polyline points="390.00,339.66 397.50,351.94 405.00,327.38 412.50,317.78 420.00,306.32 427.50,297.25 435.00,290.84 442.50,286.70 450.00,284.05 457.50,282.24 465.00,280.87 472.50,279.73 480.00,278.74 487.50,277.83 495.00,276.98 502.50,276.18 510.00,275.43" fill="none" stroke="#b0002a" stroke-width="0.85" stroke-linejoin="round"/>
<circle cx="390.00" cy="339.66" r="1.2" fill="#b0002a"/>
<circle cx="397.50" cy="351.94" r="1.2" fill="#b0002a"/>
<circle cx="405.00" cy="327.38" r="1.2" fill="#b0002a"/>
<circle cx="412.50" cy="317.78" r="1.2" fill="#b0002a"/>
<circle cx="420.00" cy="306.32" r="1.2" fill="#b0002a"/>
<circle cx="427.50" cy="297.25" r="1.2" fill="#b0002a"/>
<circle cx="435.00" cy="290.84" r="1.2" fill="#b0002a"/>
<circle cx="442.50" cy="286.70" r="1.2" fill="#b0002a"/>
<circle cx="450.00" cy="284.05" r="1.2" fill="#b0002a"/>
<circle cx="457.50" cy="282.24" r="1.2" fill="#b0002a"/>
<circle cx="465.00" cy="280.87" r="1.2" fill="#b0002a"/>
<circle cx="472.50" cy="279.73" r="1.2" fill="#b0002a"/>
<circle cx="480.00" cy="278.74" r="1.2" fill="#b0002a"/>
<circle cx="487.50" cy="277.83" r="1.2" fill="#b0002a"/>
<circle cx="495.00" cy="276.98" r="1.2" fill="#b0002a"/>
<circle cx="502.50" cy="276.18" r="1.2" fill="#b0002a"/>
<circle cx="510.00" cy="275.43" r="1.2" fill="#b0002a"/>
<polyline points="397.50,343.17 405.00,334.39 412.50,317.98 420.00,306.30 427.50,296.95 435.00,290.27 442.50,285.92 450.00,283.15 457.50,281.27 465.00,279.87 472.50,278.71 480.00,277.71 487.50,276.79 495.00,275.94 502.50,275.13 510.00,274.37" fill="none" stroke="#b0002a" stroke-width="0.85" stroke-linejoin="round"/>
<circle cx="397.50" cy="343.17" r="1.2" fill="#b0002a"/>
<circle cx="405.00" cy="334.39" r="1.2" fill="#b0002a"/>
<circle cx="412.50" cy="317.98" r="1.2" fill="#b0002a"/>
<circle cx="420.00" cy="306.30" r="1.2" fill="#b0002a"/>
<circle cx="427.50" cy="296.95" r="1.2" fill="#b0002a"/>
<circle cx="435.00" cy="290.27" r="1.2" fill="#b0002a"/>
<circle cx="442.50" cy="285.92" r="1.2" fill="#b0002a"/>
<circle cx="450.00" cy="283.15" r="1.2" fill="#b0002a"/>
<circle cx="457.50" cy="281.27" r="1.2" fill="#b0002a"/>
<circle cx="465.00" cy="279.87" r="1.2" fill="#b0002a"/>
<circle cx="472.50" cy="278.71" r="1.2" fill="#b0002a"/>
<circle cx="480.00" cy="277.71" r="1.2" fill="#b0002a"/>
<circle cx="487.50" cy="276.79" r="1.2" fill="#b0002a"/>
<circle cx="495.00" cy="275.94" r="1.2" fill="#b0002a"/>
<circle cx="502.50" cy="275.13" r="1.2" fill="#b0002a"/>
<circle cx="510.00" cy="274.37" r="1.2" fill="#b0002a"/>
<polyline points="330.00,355.45 337.50,346.33 345.00,330.88 352.50,319.30 360.00,306.98 367.50,295.40 375.00,285.22 382.50,276.11 390.00,269.44 397.50,263.83 405.00,260.33 412.50,257.87 420.00,256.12 427.50,254.72 435.00,253.66 442.50,253.21 450.00,252.75 457.50,252.30 465.00,251.84 472.50,251.38 480.00,250.93 487.50,250.47 495.00,250.01 502.50,249.56 510.00,249.10" fill="none" stroke="#1f3f7c" stroke-width="0.9" stroke-linejoin="round"/>
<circle cx="337.50" cy="346.33" r="1.3" fill="#1f3f7c"/>
<circle cx="345.00" cy="330.88" r="1.3" fill="#1f3f7c"/>
<circle cx="352.50" cy="319.30" r="1.3" fill="#1f3f7c"/>
<circle cx="360.00" cy="306.98" r="1.3" fill="#1f3f7c"/>
<circle cx="367.50" cy="295.40" r="1.3" fill="#1f3f7c"/>
<circle cx="375.00" cy="285.22" r="1.3" fill="#1f3f7c"/>
<circle cx="382.50" cy="276.11" r="1.3" fill="#1f3f7c"/>
<circle cx="390.00" cy="269.44" r="1.3" fill="#1f3f7c"/>
<circle cx="397.50" cy="263.83" r="1.3" fill="#1f3f7c"/>
<circle cx="405.00" cy="260.33" r="1.3" fill="#1f3f7c"/>
<circle cx="412.50" cy="257.87" r="1.3" fill="#1f3f7c"/>
<circle cx="420.00" cy="256.12" r="1.3" fill="#1f3f7c"/>
<circle cx="427.50" cy="254.72" r="1.3" fill="#1f3f7c"/>
<circle cx="435.00" cy="253.66" r="1.3" fill="#1f3f7c"/>
<circle cx="442.50" cy="253.21" r="1.3" fill="#1f3f7c"/>
<circle cx="450.00" cy="252.75" r="1.3" fill="#1f3f7c"/>
<circle cx="457.50" cy="252.30" r="1.3" fill="#1f3f7c"/>
<circle cx="465.00" cy="251.84" r="1.3" fill="#1f3f7c"/>
<circle cx="472.50" cy="251.38" r="1.3" fill="#1f3f7c"/>
<circle cx="480.00" cy="250.93" r="1.3" fill="#1f3f7c"/>
<circle cx="487.50" cy="250.47" r="1.3" fill="#1f3f7c"/>
<circle cx="495.00" cy="250.01" r="1.3" fill="#1f3f7c"/>
<circle cx="502.50" cy="249.56" r="1.3" fill="#1f3f7c"/>
<circle cx="510.00" cy="249.10" r="1.3" fill="#1f3f7c"/>
<polyline points="337.50,357.21 345.00,338.61 352.50,322.11 360.00,307.64 367.50,295.97 375.00,285.79 382.50,276.73 390.00,270.05 397.50,264.48 405.00,260.94 412.50,258.49 420.00,256.73 427.50,255.34 435.00,254.30 442.50,253.82 450.00,253.38 457.50,252.93 465.00,252.48 472.50,252.04 480.00,251.59 487.50,251.14 495.00,250.70 502.50,250.25 510.00,249.80" fill="none" stroke="#1f3f7c" stroke-width="0.9" stroke-linejoin="round"/>
<circle cx="345.00" cy="338.61" r="1.3" fill="#1f3f7c"/>
<circle cx="352.50" cy="322.11" r="1.3" fill="#1f3f7c"/>
<circle cx="360.00" cy="307.64" r="1.3" fill="#1f3f7c"/>
<circle cx="367.50" cy="295.97" r="1.3" fill="#1f3f7c"/>
<circle cx="375.00" cy="285.79" r="1.3" fill="#1f3f7c"/>
<circle cx="382.50" cy="276.73" r="1.3" fill="#1f3f7c"/>
<circle cx="390.00" cy="270.05" r="1.3" fill="#1f3f7c"/>
<circle cx="397.50" cy="264.48" r="1.3" fill="#1f3f7c"/>
<circle cx="405.00" cy="260.94" r="1.3" fill="#1f3f7c"/>
<circle cx="412.50" cy="258.49" r="1.3" fill="#1f3f7c"/>
<circle cx="420.00" cy="256.73" r="1.3" fill="#1f3f7c"/>
<circle cx="427.50" cy="255.34" r="1.3" fill="#1f3f7c"/>
<circle cx="435.00" cy="254.30" r="1.3" fill="#1f3f7c"/>
<circle cx="442.50" cy="253.82" r="1.3" fill="#1f3f7c"/>
<circle cx="450.00" cy="253.38" r="1.3" fill="#1f3f7c"/>
<circle cx="457.50" cy="252.93" r="1.3" fill="#1f3f7c"/>
<circle cx="465.00" cy="252.48" r="1.3" fill="#1f3f7c"/>
<circle cx="472.50" cy="252.04" r="1.3" fill="#1f3f7c"/>
<circle cx="480.00" cy="251.59" r="1.3" fill="#1f3f7c"/>
<circle cx="487.50" cy="251.14" r="1.3" fill="#1f3f7c"/>
<circle cx="495.00" cy="250.70" r="1.3" fill="#1f3f7c"/>
<circle cx="502.50" cy="250.25" r="1.3" fill="#1f3f7c"/>
<circle cx="510.00" cy="249.80" r="1.3" fill="#1f3f7c"/>
<polyline points="300.00,334.39 307.50,348.44 315.00,338.96 322.50,344.93 324.75,354.40" fill="none" stroke="#b0002a" stroke-width="0.9" stroke-linejoin="round"/>
<circle cx="300.00" cy="334.39" r="1.2" fill="#b0002a"/>
<circle cx="307.50" cy="348.44" r="1.2" fill="#b0002a"/>
<circle cx="315.00" cy="338.96" r="1.2" fill="#b0002a"/>
<circle cx="322.50" cy="344.93" r="1.2" fill="#b0002a"/>
<polyline points="311.25,354.40 315.00,346.68 319.50,354.40" fill="none" stroke="#b0002a" stroke-width="0.9" stroke-linejoin="round"/>
<circle cx="315.00" cy="346.68" r="1.2" fill="#b0002a"/>
<polyline points="352.50,347.73" fill="none" stroke="#b0002a" stroke-width="0.9" stroke-linejoin="round"/>
<circle cx="352.50" cy="347.73" r="1.2" fill="#b0002a"/>
<polyline points="300.00,337.90" fill="none" stroke="#4863a3" stroke-width="0.8" stroke-linejoin="round"/>
<circle cx="300.00" cy="337.90" r="1.1" fill="#4863a3"/>
<polyline points="300.00,346.68" fill="none" stroke="#8e9ecb" stroke-width="0.8" stroke-linejoin="round"/>
<circle cx="300.00" cy="346.68" r="1.1" fill="#8e9ecb"/>
<polyline points="315.00,352.65" fill="none" stroke="#8e9ecb" stroke-width="0.8" stroke-linejoin="round"/>
<circle cx="315.00" cy="352.65" r="1.1" fill="#8e9ecb"/>
<polyline points="330.00,355.45 337.50,350.19 345.00,351.94 352.50,346.68 360.00,342.12 367.50,337.55 375.00,332.64 382.50,327.38 390.00,321.06 397.50,311.58 405.00,304.56" fill="none" stroke="#8e9ecb" stroke-width="0.8" stroke-linejoin="round"/>
<circle cx="330.00" cy="355.45" r="1.1" fill="#8e9ecb"/>
<circle cx="337.50" cy="350.19" r="1.1" fill="#8e9ecb"/>
<circle cx="345.00" cy="351.94" r="1.1" fill="#8e9ecb"/>
<circle cx="352.50" cy="346.68" r="1.1" fill="#8e9ecb"/>
<circle cx="360.00" cy="342.12" r="1.1" fill="#8e9ecb"/>
<circle cx="367.50" cy="337.55" r="1.1" fill="#8e9ecb"/>
<circle cx="375.00" cy="332.64" r="1.1" fill="#8e9ecb"/>
<circle cx="382.50" cy="327.38" r="1.1" fill="#8e9ecb"/>
<circle cx="390.00" cy="321.06" r="1.1" fill="#8e9ecb"/>
<circle cx="397.50" cy="311.58" r="1.1" fill="#8e9ecb"/>
<circle cx="405.00" cy="304.56" r="1.1" fill="#8e9ecb"/>
<polyline points="382.50,354.40 384.75,332.64 390.00,346.68 393.75,354.40 397.50,343.17 401.25,354.40 405.00,344.93 408.75,336.15 412.50,322.11" fill="none" stroke="#b0002a" stroke-width="0.9" stroke-linejoin="round"/>
<circle cx="382.50" cy="354.40" r="1.2" fill="#b0002a"/>
<circle cx="390.00" cy="346.68" r="1.2" fill="#b0002a"/>
<circle cx="397.50" cy="343.17" r="1.2" fill="#b0002a"/>
<circle cx="405.00" cy="344.93" r="1.2" fill="#b0002a"/>
<circle cx="412.50" cy="322.11" r="1.2" fill="#b0002a"/>
<polyline points="390.00,354.40 397.50,350.19 405.00,339.66 412.50,329.13" fill="none" stroke="#b0002a" stroke-width="0.9" stroke-linejoin="round"/>
<circle cx="390.00" cy="354.40" r="1.2" fill="#b0002a"/>
<circle cx="397.50" cy="350.19" r="1.2" fill="#b0002a"/>
<circle cx="405.00" cy="339.66" r="1.2" fill="#b0002a"/>
<circle cx="412.50" cy="329.13" r="1.2" fill="#b0002a"/>
<polyline points="476.25,354.05 480.00,348.44 486.00,354.05" fill="none" stroke="#4aa02c" stroke-width="0.9" stroke-linejoin="round"/>
<circle cx="480.00" cy="348.44" r="1.3" fill="#4aa02c"/>
<polyline points="489.75,354.05 495.00,343.17 502.50,342.47 505.50,354.05" fill="none" stroke="#4aa02c" stroke-width="0.9" stroke-linejoin="round"/>
<circle cx="495.00" cy="343.17" r="1.3" fill="#4aa02c"/>
<circle cx="502.50" cy="342.47" r="1.3" fill="#4aa02c"/>
</g>
<line x1="300.00" y1="295.40" x2="510.70" y2="295.40" stroke="#111" stroke-width="0.9"/>
<text x="510.40" y="293.60" font-size="6.0" fill="#111" text-anchor="end" textLength="22.50" lengthAdjust="spacingAndGlyphs" stroke="#111" stroke-width="0.08">threshold</text>
<line x1="300.00" y1="245.40" x2="300.00" y2="354.20" stroke="#000" stroke-width="1.4"/>
<line x1="299.50" y1="353.70" x2="514.70" y2="353.70" stroke="#000" stroke-width="1.2"/>
<line x1="297.50" y1="353.70" x2="300.00" y2="353.70" stroke="#000" stroke-width="0.8"/>
<line x1="298.50" y1="343.13" x2="300.00" y2="343.13" stroke="#000" stroke-width="0.5"/>
<line x1="298.50" y1="336.95" x2="300.00" y2="336.95" stroke="#000" stroke-width="0.5"/>
<line x1="298.50" y1="332.57" x2="300.00" y2="332.57" stroke="#000" stroke-width="0.5"/>
<line x1="298.50" y1="329.17" x2="300.00" y2="329.17" stroke="#000" stroke-width="0.5"/>
<line x1="298.50" y1="326.39" x2="300.00" y2="326.39" stroke="#000" stroke-width="0.5"/>
<line x1="298.50" y1="324.04" x2="300.00" y2="324.04" stroke="#000" stroke-width="0.5"/>
<line x1="298.50" y1="322.00" x2="300.00" y2="322.00" stroke="#000" stroke-width="0.5"/>
<line x1="298.50" y1="320.21" x2="300.00" y2="320.21" stroke="#000" stroke-width="0.5"/>
<line x1="297.50" y1="318.60" x2="300.00" y2="318.60" stroke="#000" stroke-width="0.8"/>
<line x1="298.50" y1="308.03" x2="300.00" y2="308.03" stroke="#000" stroke-width="0.5"/>
<line x1="298.50" y1="301.85" x2="300.00" y2="301.85" stroke="#000" stroke-width="0.5"/>
<line x1="298.50" y1="297.47" x2="300.00" y2="297.47" stroke="#000" stroke-width="0.5"/>
<line x1="298.50" y1="294.07" x2="300.00" y2="294.07" stroke="#000" stroke-width="0.5"/>
<line x1="298.50" y1="291.29" x2="300.00" y2="291.29" stroke="#000" stroke-width="0.5"/>
<line x1="298.50" y1="288.94" x2="300.00" y2="288.94" stroke="#000" stroke-width="0.5"/>
<line x1="298.50" y1="286.90" x2="300.00" y2="286.90" stroke="#000" stroke-width="0.5"/>
<line x1="298.50" y1="285.11" x2="300.00" y2="285.11" stroke="#000" stroke-width="0.5"/>
<line x1="297.50" y1="283.50" x2="300.00" y2="283.50" stroke="#000" stroke-width="0.8"/>
<line x1="298.50" y1="272.93" x2="300.00" y2="272.93" stroke="#000" stroke-width="0.5"/>
<line x1="298.50" y1="266.75" x2="300.00" y2="266.75" stroke="#000" stroke-width="0.5"/>
<line x1="298.50" y1="262.37" x2="300.00" y2="262.37" stroke="#000" stroke-width="0.5"/>
<line x1="298.50" y1="258.97" x2="300.00" y2="258.97" stroke="#000" stroke-width="0.5"/>
<line x1="298.50" y1="256.19" x2="300.00" y2="256.19" stroke="#000" stroke-width="0.5"/>
<line x1="298.50" y1="253.84" x2="300.00" y2="253.84" stroke="#000" stroke-width="0.5"/>
<line x1="298.50" y1="251.80" x2="300.00" y2="251.80" stroke="#000" stroke-width="0.5"/>
<line x1="298.50" y1="250.01" x2="300.00" y2="250.01" stroke="#000" stroke-width="0.5"/>
<line x1="297.50" y1="248.40" x2="300.00" y2="248.40" stroke="#000" stroke-width="0.8"/>
<text x="294.40" y="355.70" font-size="5.8" fill="#111" text-anchor="end" textLength="8.40" lengthAdjust="spacingAndGlyphs" stroke="#111" stroke-width="0.08">100</text>
<text x="294.40" y="320.60" font-size="5.8" fill="#111" text-anchor="end" textLength="11.20" lengthAdjust="spacingAndGlyphs" stroke="#111" stroke-width="0.08">1000</text>
<text x="294.40" y="285.50" font-size="5.8" fill="#111" text-anchor="end" textLength="14.00" lengthAdjust="spacingAndGlyphs" stroke="#111" stroke-width="0.08">10000</text>
<text x="294.40" y="250.40" font-size="5.8" fill="#111" text-anchor="end" textLength="16.80" lengthAdjust="spacingAndGlyphs" stroke="#111" stroke-width="0.08">100000</text>
<line x1="300.00" y1="353.70" x2="300.00" y2="356.50" stroke="#000" stroke-width="0.8"/>
<text x="300.00" y="364.70" font-size="6.0" fill="#111" text-anchor="middle" textLength="5.40" lengthAdjust="spacingAndGlyphs" stroke="#111" stroke-width="0.08">17</text>
<line x1="307.50" y1="353.70" x2="307.50" y2="356.50" stroke="#000" stroke-width="0.8"/>
<text x="307.50" y="364.70" font-size="6.0" fill="#111" text-anchor="middle" textLength="5.40" lengthAdjust="spacingAndGlyphs" stroke="#111" stroke-width="0.08">18</text>
<line x1="315.00" y1="353.70" x2="315.00" y2="356.50" stroke="#000" stroke-width="0.8"/>
<text x="315.00" y="364.70" font-size="6.0" fill="#111" text-anchor="middle" textLength="5.40" lengthAdjust="spacingAndGlyphs" stroke="#111" stroke-width="0.08">19</text>
<line x1="322.50" y1="353.70" x2="322.50" y2="356.50" stroke="#000" stroke-width="0.8"/>
<text x="322.50" y="364.70" font-size="6.0" fill="#111" text-anchor="middle" textLength="5.40" lengthAdjust="spacingAndGlyphs" stroke="#111" stroke-width="0.08">20</text>
<line x1="330.00" y1="353.70" x2="330.00" y2="356.50" stroke="#000" stroke-width="0.8"/>
<text x="330.00" y="364.70" font-size="6.0" fill="#111" text-anchor="middle" textLength="5.40" lengthAdjust="spacingAndGlyphs" stroke="#111" stroke-width="0.08">21</text>
<line x1="337.50" y1="353.70" x2="337.50" y2="356.50" stroke="#000" stroke-width="0.8"/>
<text x="337.50" y="364.70" font-size="6.0" fill="#111" text-anchor="middle" textLength="5.40" lengthAdjust="spacingAndGlyphs" stroke="#111" stroke-width="0.08">22</text>
<line x1="345.00" y1="353.70" x2="345.00" y2="356.50" stroke="#000" stroke-width="0.8"/>
<text x="345.00" y="364.70" font-size="6.0" fill="#111" text-anchor="middle" textLength="5.40" lengthAdjust="spacingAndGlyphs" stroke="#111" stroke-width="0.08">23</text>
<line x1="352.50" y1="353.70" x2="352.50" y2="356.50" stroke="#000" stroke-width="0.8"/>
<text x="352.50" y="364.70" font-size="6.0" fill="#111" text-anchor="middle" textLength="5.40" lengthAdjust="spacingAndGlyphs" stroke="#111" stroke-width="0.08">24</text>
<line x1="360.00" y1="353.70" x2="360.00" y2="356.50" stroke="#000" stroke-width="0.8"/>
<text x="360.00" y="364.70" font-size="6.0" fill="#111" text-anchor="middle" textLength="5.40" lengthAdjust="spacingAndGlyphs" stroke="#111" stroke-width="0.08">25</text>
<line x1="367.50" y1="353.70" x2="367.50" y2="356.50" stroke="#000" stroke-width="0.8"/>
<text x="367.50" y="364.70" font-size="6.0" fill="#111" text-anchor="middle" textLength="5.40" lengthAdjust="spacingAndGlyphs" stroke="#111" stroke-width="0.08">26</text>
<line x1="375.00" y1="353.70" x2="375.00" y2="356.50" stroke="#000" stroke-width="0.8"/>
<text x="375.00" y="364.70" font-size="6.0" fill="#111" text-anchor="middle" textLength="5.40" lengthAdjust="spacingAndGlyphs" stroke="#111" stroke-width="0.08">27</text>
<line x1="382.50" y1="353.70" x2="382.50" y2="356.50" stroke="#000" stroke-width="0.8"/>
<text x="382.50" y="364.70" font-size="6.0" fill="#111" text-anchor="middle" textLength="5.40" lengthAdjust="spacingAndGlyphs" stroke="#111" stroke-width="0.08">28</text>
<line x1="390.00" y1="353.70" x2="390.00" y2="356.50" stroke="#000" stroke-width="0.8"/>
<text x="390.00" y="364.70" font-size="6.0" fill="#111" text-anchor="middle" textLength="5.40" lengthAdjust="spacingAndGlyphs" stroke="#111" stroke-width="0.08">29</text>
<line x1="397.50" y1="353.70" x2="397.50" y2="356.50" stroke="#000" stroke-width="0.8"/>
<text x="397.50" y="364.70" font-size="6.0" fill="#111" text-anchor="middle" textLength="5.40" lengthAdjust="spacingAndGlyphs" stroke="#111" stroke-width="0.08">30</text>
<line x1="405.00" y1="353.70" x2="405.00" y2="356.50" stroke="#000" stroke-width="0.8"/>
<text x="405.00" y="364.70" font-size="6.0" fill="#111" text-anchor="middle" textLength="5.40" lengthAdjust="spacingAndGlyphs" stroke="#111" stroke-width="0.08">31</text>
<line x1="412.50" y1="353.70" x2="412.50" y2="356.50" stroke="#000" stroke-width="0.8"/>
<text x="412.50" y="364.70" font-size="6.0" fill="#111" text-anchor="middle" textLength="5.40" lengthAdjust="spacingAndGlyphs" stroke="#111" stroke-width="0.08">32</text>
<line x1="420.00" y1="353.70" x2="420.00" y2="356.50" stroke="#000" stroke-width="0.8"/>
<text x="420.00" y="364.70" font-size="6.0" fill="#111" text-anchor="middle" textLength="5.40" lengthAdjust="spacingAndGlyphs" stroke="#111" stroke-width="0.08">33</text>
<line x1="427.50" y1="353.70" x2="427.50" y2="356.50" stroke="#000" stroke-width="0.8"/>
<text x="427.50" y="364.70" font-size="6.0" fill="#111" text-anchor="middle" textLength="5.40" lengthAdjust="spacingAndGlyphs" stroke="#111" stroke-width="0.08">34</text>
<line x1="435.00" y1="353.70" x2="435.00" y2="356.50" stroke="#000" stroke-width="0.8"/>
<text x="435.00" y="364.70" font-size="6.0" fill="#111" text-anchor="middle" textLength="5.40" lengthAdjust="spacingAndGlyphs" stroke="#111" stroke-width="0.08">35</text>
<line x1="442.50" y1="353.70" x2="442.50" y2="356.50" stroke="#000" stroke-width="0.8"/>
<text x="442.50" y="364.70" font-size="6.0" fill="#111" text-anchor="middle" textLength="5.40" lengthAdjust="spacingAndGlyphs" stroke="#111" stroke-width="0.08">36</text>
<line x1="450.00" y1="353.70" x2="450.00" y2="356.50" stroke="#000" stroke-width="0.8"/>
<text x="450.00" y="364.70" font-size="6.0" fill="#111" text-anchor="middle" textLength="5.40" lengthAdjust="spacingAndGlyphs" stroke="#111" stroke-width="0.08">37</text>
<line x1="457.50" y1="353.70" x2="457.50" y2="356.50" stroke="#000" stroke-width="0.8"/>
<text x="457.50" y="364.70" font-size="6.0" fill="#111" text-anchor="middle" textLength="5.40" lengthAdjust="spacingAndGlyphs" stroke="#111" stroke-width="0.08">38</text>
<line x1="465.00" y1="353.70" x2="465.00" y2="356.50" stroke="#000" stroke-width="0.8"/>
<text x="465.00" y="364.70" font-size="6.0" fill="#111" text-anchor="middle" textLength="5.40" lengthAdjust="spacingAndGlyphs" stroke="#111" stroke-width="0.08">39</text>
<line x1="472.50" y1="353.70" x2="472.50" y2="356.50" stroke="#000" stroke-width="0.8"/>
<text x="472.50" y="364.70" font-size="6.0" fill="#111" text-anchor="middle" textLength="5.40" lengthAdjust="spacingAndGlyphs" stroke="#111" stroke-width="0.08">40</text>
<line x1="480.00" y1="353.70" x2="480.00" y2="356.50" stroke="#000" stroke-width="0.8"/>
<text x="480.00" y="364.70" font-size="6.0" fill="#111" text-anchor="middle" textLength="5.40" lengthAdjust="spacingAndGlyphs" stroke="#111" stroke-width="0.08">41</text>
<line x1="487.50" y1="353.70" x2="487.50" y2="356.50" stroke="#000" stroke-width="0.8"/>
<text x="487.50" y="364.70" font-size="6.0" fill="#111" text-anchor="middle" textLength="5.40" lengthAdjust="spacingAndGlyphs" stroke="#111" stroke-width="0.08">42</text>
<line x1="495.00" y1="353.70" x2="495.00" y2="356.50" stroke="#000" stroke-width="0.8"/>
<text x="495.00" y="364.70" font-size="6.0" fill="#111" text-anchor="middle" textLength="5.40" lengthAdjust="spacingAndGlyphs" stroke="#111" stroke-width="0.08">43</text>
<line x1="502.50" y1="353.70" x2="502.50" y2="356.50" stroke="#000" stroke-width="0.8"/>
<text x="502.50" y="364.70" font-size="6.0" fill="#111" text-anchor="middle" textLength="5.40" lengthAdjust="spacingAndGlyphs" stroke="#111" stroke-width="0.08">44</text>
<line x1="510.00" y1="353.70" x2="510.00" y2="356.50" stroke="#000" stroke-width="0.8"/>
<text x="510.00" y="364.70" font-size="6.0" fill="#111" text-anchor="middle" textLength="5.40" lengthAdjust="spacingAndGlyphs" stroke="#111" stroke-width="0.08">45</text>
<text x="375.80" y="269.30" font-size="5.6" fill="#111" text-anchor="start" textLength="12.70" lengthAdjust="spacingAndGlyphs" stroke="#111" stroke-width="0.08">1E-01</text>
<text x="392.00" y="274.50" font-size="5.6" fill="#111" text-anchor="start" textLength="12.70" lengthAdjust="spacingAndGlyphs" stroke="#111" stroke-width="0.08">1E-02</text>
<text x="407.90" y="282.00" font-size="5.6" fill="#111" text-anchor="start" textLength="12.70" lengthAdjust="spacingAndGlyphs" stroke="#111" stroke-width="0.08">1E-03</text>
<text x="421.00" y="287.80" font-size="5.6" fill="#111" text-anchor="start" textLength="12.70" lengthAdjust="spacingAndGlyphs" stroke="#111" stroke-width="0.08">1E-04</text>
<text x="442.40" y="315.00" font-size="6.2" fill="#b0002a" text-anchor="middle" textLength="42.80" lengthAdjust="spacingAndGlyphs" stroke="#b0002a" stroke-width="0.08">mutation negative</text>
<text x="442.40" y="321.00" font-size="6.2" fill="#b0002a" text-anchor="middle" textLength="29.80" lengthAdjust="spacingAndGlyphs" stroke="#b0002a" stroke-width="0.08">DNA control</text>
<text x="443.00" y="346.20" font-size="6.2" fill="#4aa02c" text-anchor="start" textLength="47.20" lengthAdjust="spacingAndGlyphs" stroke="#4aa02c" stroke-width="0.08">no template control</text>
<text x="6.30" y="402.80" font-size="12.2" fill="#000" text-anchor="start" font-weight="bold" textLength="8.60" lengthAdjust="spacingAndGlyphs">C</text>
<line x1="42.90" y1="405.90" x2="42.90" y2="538.70" stroke="#000" stroke-width="1.1"/>
<line x1="42.40" y1="538.20" x2="187.70" y2="538.20" stroke="#000" stroke-width="1.1"/>
<line x1="40.30" y1="538.20" x2="42.90" y2="538.20" stroke="#000" stroke-width="0.8"/>
<text x="37.60" y="540.10" font-size="5.3" fill="#111" text-anchor="end" stroke="#111" stroke-width="0.08">0%</text>
<line x1="40.30" y1="525.28" x2="42.90" y2="525.28" stroke="#000" stroke-width="0.8"/>
<text x="37.60" y="527.18" font-size="5.3" fill="#111" text-anchor="end" stroke="#111" stroke-width="0.08">10%</text>
<line x1="40.30" y1="512.36" x2="42.90" y2="512.36" stroke="#000" stroke-width="0.8"/>
<text x="37.60" y="514.26" font-size="5.3" fill="#111" text-anchor="end" stroke="#111" stroke-width="0.08">20%</text>
<line x1="40.30" y1="499.44" x2="42.90" y2="499.44" stroke="#000" stroke-width="0.8"/>
<text x="37.60" y="501.34" font-size="5.3" fill="#111" text-anchor="end" stroke="#111" stroke-width="0.08">30%</text>
<line x1="40.30" y1="486.52" x2="42.90" y2="486.52" stroke="#000" stroke-width="0.8"/>
<text x="37.60" y="488.42" font-size="5.3" fill="#111" text-anchor="end" stroke="#111" stroke-width="0.08">40%</text>
<line x1="40.30" y1="473.60" x2="42.90" y2="473.60" stroke="#000" stroke-width="0.8"/>
<text x="37.60" y="475.50" font-size="5.3" fill="#111" text-anchor="end" stroke="#111" stroke-width="0.08">50%</text>
<line x1="40.30" y1="460.68" x2="42.90" y2="460.68" stroke="#000" stroke-width="0.8"/>
<text x="37.60" y="462.58" font-size="5.3" fill="#111" text-anchor="end" stroke="#111" stroke-width="0.08">60%</text>
<line x1="40.30" y1="447.76" x2="42.90" y2="447.76" stroke="#000" stroke-width="0.8"/>
<text x="37.60" y="449.66" font-size="5.3" fill="#111" text-anchor="end" stroke="#111" stroke-width="0.08">70%</text>
<line x1="40.30" y1="434.84" x2="42.90" y2="434.84" stroke="#000" stroke-width="0.8"/>
<text x="37.60" y="436.74" font-size="5.3" fill="#111" text-anchor="end" stroke="#111" stroke-width="0.08">80%</text>
<line x1="40.30" y1="421.92" x2="42.90" y2="421.92" stroke="#000" stroke-width="0.8"/>
<text x="37.60" y="423.82" font-size="5.3" fill="#111" text-anchor="end" stroke="#111" stroke-width="0.08">90%</text>
<line x1="40.30" y1="409.00" x2="42.90" y2="409.00" stroke="#000" stroke-width="0.8"/>
<text x="37.60" y="410.90" font-size="5.3" fill="#111" text-anchor="end" stroke="#111" stroke-width="0.08">100%</text>
<line x1="42.90" y1="538.20" x2="42.90" y2="541.00" stroke="#000" stroke-width="0.8"/>
<line x1="113.50" y1="538.20" x2="113.50" y2="541.00" stroke="#000" stroke-width="0.8"/>
<line x1="184.60" y1="538.20" x2="184.60" y2="541.00" stroke="#000" stroke-width="0.8"/>
<rect x="54.60" y="524.23" width="47.00" height="13.97" fill="#4f2163"/>
<text x="78.10" y="533.22" font-size="5.6" fill="#fff" text-anchor="middle" stroke="#fff" stroke-width="0.08">4</text>
<rect x="54.60" y="499.79" width="47.00" height="24.44" fill="#6e4d80"/>
<text x="78.10" y="514.01" font-size="5.6" fill="#fff" text-anchor="middle" stroke="#fff" stroke-width="0.08">7</text>
<rect x="54.60" y="461.38" width="47.00" height="38.41" fill="#9d86ab"/>
<text x="78.10" y="482.58" font-size="5.6" fill="#fff" text-anchor="middle" stroke="#fff" stroke-width="0.08">11</text>
<rect x="54.60" y="409.00" width="47.00" height="52.38" fill="#cdc1d6"/>
<text x="78.10" y="437.19" font-size="5.6" fill="#222" text-anchor="middle" stroke="#222" stroke-width="0.08">15</text>
<rect x="125.80" y="526.24" width="47.00" height="11.96" fill="#4f2163"/>
<text x="149.30" y="534.22" font-size="5.6" fill="#fff" text-anchor="middle" stroke="#fff" stroke-width="0.08">5</text>
<rect x="125.80" y="490.35" width="47.00" height="35.89" fill="#6e4d80"/>
<text x="149.30" y="510.29" font-size="5.6" fill="#fff" text-anchor="middle" stroke="#fff" stroke-width="0.08">15</text>
<rect x="125.80" y="444.89" width="47.00" height="45.46" fill="#9d86ab"/>
<text x="149.30" y="469.62" font-size="5.6" fill="#fff" text-anchor="middle" stroke="#fff" stroke-width="0.08">19</text>
<rect x="125.80" y="409.00" width="47.00" height="35.89" fill="#cdc1d6"/>
<text x="149.30" y="428.94" font-size="5.6" fill="#222" text-anchor="middle" stroke="#222" stroke-width="0.08">15</text>
<text x="78.00" y="548.90" font-size="5.6" fill="#111" text-anchor="middle" stroke="#111" stroke-width="0.08">p.R39Q</text>
<text x="148.80" y="548.90" font-size="5.6" fill="#111" text-anchor="middle" stroke="#111" stroke-width="0.08">p.R367Q</text>
<text x="185.00" y="410.80" font-size="5.6" fill="#111" text-anchor="start" textLength="79.20" lengthAdjust="spacingAndGlyphs" stroke="#111" stroke-width="0.08"><tspan font-style="italic">NT5C2</tspan>-mutant clone frequencies</text>
<text x="185.00" y="416.60" font-size="5.6" fill="#111" text-anchor="start" textLength="64.50" lengthAdjust="spacingAndGlyphs" stroke="#111" stroke-width="0.08">(mutant per wild-type cells)</text>
<rect x="182.50" y="420.90" width="5.20" height="5.20" fill="#cdc1d6"/>
<text x="190.20" y="425.50" font-size="5.6" fill="#111" text-anchor="start" textLength="19.50" lengthAdjust="spacingAndGlyphs" stroke="#111" stroke-width="0.08">&lt;1E-03</text>
<rect x="182.50" y="429.50" width="5.20" height="5.20" fill="#9d86ab"/>
<text x="190.20" y="434.10" font-size="5.6" fill="#111" text-anchor="start" textLength="39.50" lengthAdjust="spacingAndGlyphs" stroke="#111" stroke-width="0.08">&gt;1E-03 - &lt;1E-02</text>
<rect x="182.50" y="438.20" width="5.20" height="5.20" fill="#6e4d80"/>
<text x="190.20" y="442.80" font-size="5.6" fill="#111" text-anchor="start" textLength="39.50" lengthAdjust="spacingAndGlyphs" stroke="#111" stroke-width="0.08">&gt;1E-02 - &lt;1E-01</text>
<rect x="182.50" y="447.20" width="5.20" height="5.20" fill="#4f2163"/>
<text x="190.20" y="451.80" font-size="5.6" fill="#111" text-anchor="start" textLength="17.50" lengthAdjust="spacingAndGlyphs" stroke="#111" stroke-width="0.08">&gt;1E-01</text>
<text x="278.30" y="402.60" font-size="12.2" fill="#000" text-anchor="start" font-weight="bold" textLength="8.60" lengthAdjust="spacingAndGlyphs">D</text>
<path d="M386.20,469.80 L386.20,416.20 A53.6,53.6 0 0 1 435.61,449.03 Z" fill="#a3002a" stroke="#fff" stroke-width="0.9" stroke-linejoin="round"/>
<path d="M386.20,469.80 L435.61,449.03 A53.6,53.6 0 0 1 424.50,507.30 Z" fill="#a3002a" stroke="#fff" stroke-width="0.9" stroke-linejoin="round"/>
<path d="M382.60,470.40 L420.90,507.90 A53.6,53.6 0 0 1 414.11,513.76 Z" fill="#c27669" stroke="#fff" stroke-width="0.9" stroke-linejoin="round"/>
<path d="M382.60,470.40 L414.11,513.76 A53.6,53.6 0 0 1 334.10,493.22 Z" fill="#c27669" stroke="#fff" stroke-width="0.9" stroke-linejoin="round"/>
<path d="M382.60,470.40 L334.10,493.22 A53.6,53.6 0 0 1 331.62,453.84 Z" fill="#c27669" stroke="#fff" stroke-width="0.9" stroke-linejoin="round"/>
<path d="M382.60,470.40 L331.62,453.84 A53.6,53.6 0 0 1 382.60,416.80 Z" fill="#c27669" stroke="#fff" stroke-width="0.9" stroke-linejoin="round"/>
<line x1="326.50" y1="420.80" x2="347.70" y2="426.90" stroke="#222" stroke-width="0.9"/>
<line x1="415.50" y1="425.00" x2="440.80" y2="416.30" stroke="#222" stroke-width="0.9"/>
<line x1="440.20" y1="478.80" x2="450.80" y2="478.80" stroke="#222" stroke-width="0.9"/>
<line x1="313.00" y1="475.70" x2="328.50" y2="475.70" stroke="#222" stroke-width="0.9"/>
<line x1="373.50" y1="524.70" x2="372.40" y2="532.70" stroke="#222" stroke-width="0.9"/>
<line x1="418.50" y1="512.10" x2="425.60" y2="519.20" stroke="#222" stroke-width="0.9"/>
<text x="311.00" y="413.80" font-size="5.5" fill="#111" text-anchor="middle" stroke="#111" stroke-width="0.08">multiple subclonal</text>
<text x="311.00" y="420.20" font-size="5.5" fill="#111" text-anchor="middle" stroke="#111" stroke-width="0.08">mutations</text>
<text x="311.00" y="426.30" font-size="5.5" fill="#111" text-anchor="middle" stroke="#111" stroke-width="0.08">15 (20%)</text>
<text x="455.60" y="410.60" font-size="5.5" fill="#111" text-anchor="middle" stroke="#111" stroke-width="0.08">clonal and subclonal</text>
<text x="455.60" y="416.70" font-size="5.5" fill="#111" text-anchor="middle" stroke="#111" stroke-width="0.08">mutations</text>
<text x="455.60" y="422.50" font-size="5.5" fill="#111" text-anchor="middle" stroke="#111" stroke-width="0.08">14 (19%)</text>
<text x="471.00" y="476.90" font-size="5.5" fill="#111" text-anchor="middle" stroke="#111" stroke-width="0.08">clonal mutation</text>
<text x="471.00" y="483.10" font-size="5.5" fill="#111" text-anchor="middle" stroke="#111" stroke-width="0.08">14 (19%)</text>
<text x="298.50" y="472.30" font-size="5.5" fill="#111" text-anchor="middle" stroke="#111" stroke-width="0.08">subclonal</text>
<text x="298.50" y="478.80" font-size="5.5" fill="#111" text-anchor="middle" stroke="#111" stroke-width="0.08">p.R39Q</text>
<text x="298.50" y="485.00" font-size="5.5" fill="#111" text-anchor="middle" stroke="#111" stroke-width="0.08">9 (12%)</text>
<text x="370.50" y="539.70" font-size="5.5" fill="#111" text-anchor="middle" stroke="#111" stroke-width="0.08">subclonal</text>
<text x="370.50" y="545.70" font-size="5.5" fill="#111" text-anchor="middle" stroke="#111" stroke-width="0.08">p.R367Q</text>
<text x="370.50" y="552.00" font-size="5.5" fill="#111" text-anchor="middle" stroke="#111" stroke-width="0.08">21 (28%)</text>
<text x="429.60" y="527.50" font-size="5.5" fill="#111" text-anchor="middle" stroke="#111" stroke-width="0.08">other subclonal</text>
<text x="429.60" y="533.60" font-size="5.5" fill="#111" text-anchor="middle" stroke="#111" stroke-width="0.08">mutation</text>
<text x="429.60" y="539.60" font-size="5.5" fill="#111" text-anchor="middle" stroke="#111" stroke-width="0.08">2 (2%)</text>
<rect x="331.30" y="559.80" width="6.40" height="6.40" fill="#a3002a"/>
<text x="341.20" y="564.80" font-size="5.6" fill="#111" text-anchor="start" textLength="31.60" lengthAdjust="spacingAndGlyphs" stroke="#111" stroke-width="0.08"><tspan font-style="italic">NT5C2</tspan> clonal</text>
<rect x="385.50" y="559.70" width="6.40" height="6.40" fill="#c27669"/>
<text x="395.40" y="564.80" font-size="5.6" fill="#111" text-anchor="start" textLength="51.90" lengthAdjust="spacingAndGlyphs" stroke="#111" stroke-width="0.08"><tspan font-style="italic">NT5C2</tspan> subclonal only</text>
<rect x="0.5" y="0.5" width="519" height="572" fill="none" stroke="#000" stroke-width="1.2"/>
</svg>
</body></html>
